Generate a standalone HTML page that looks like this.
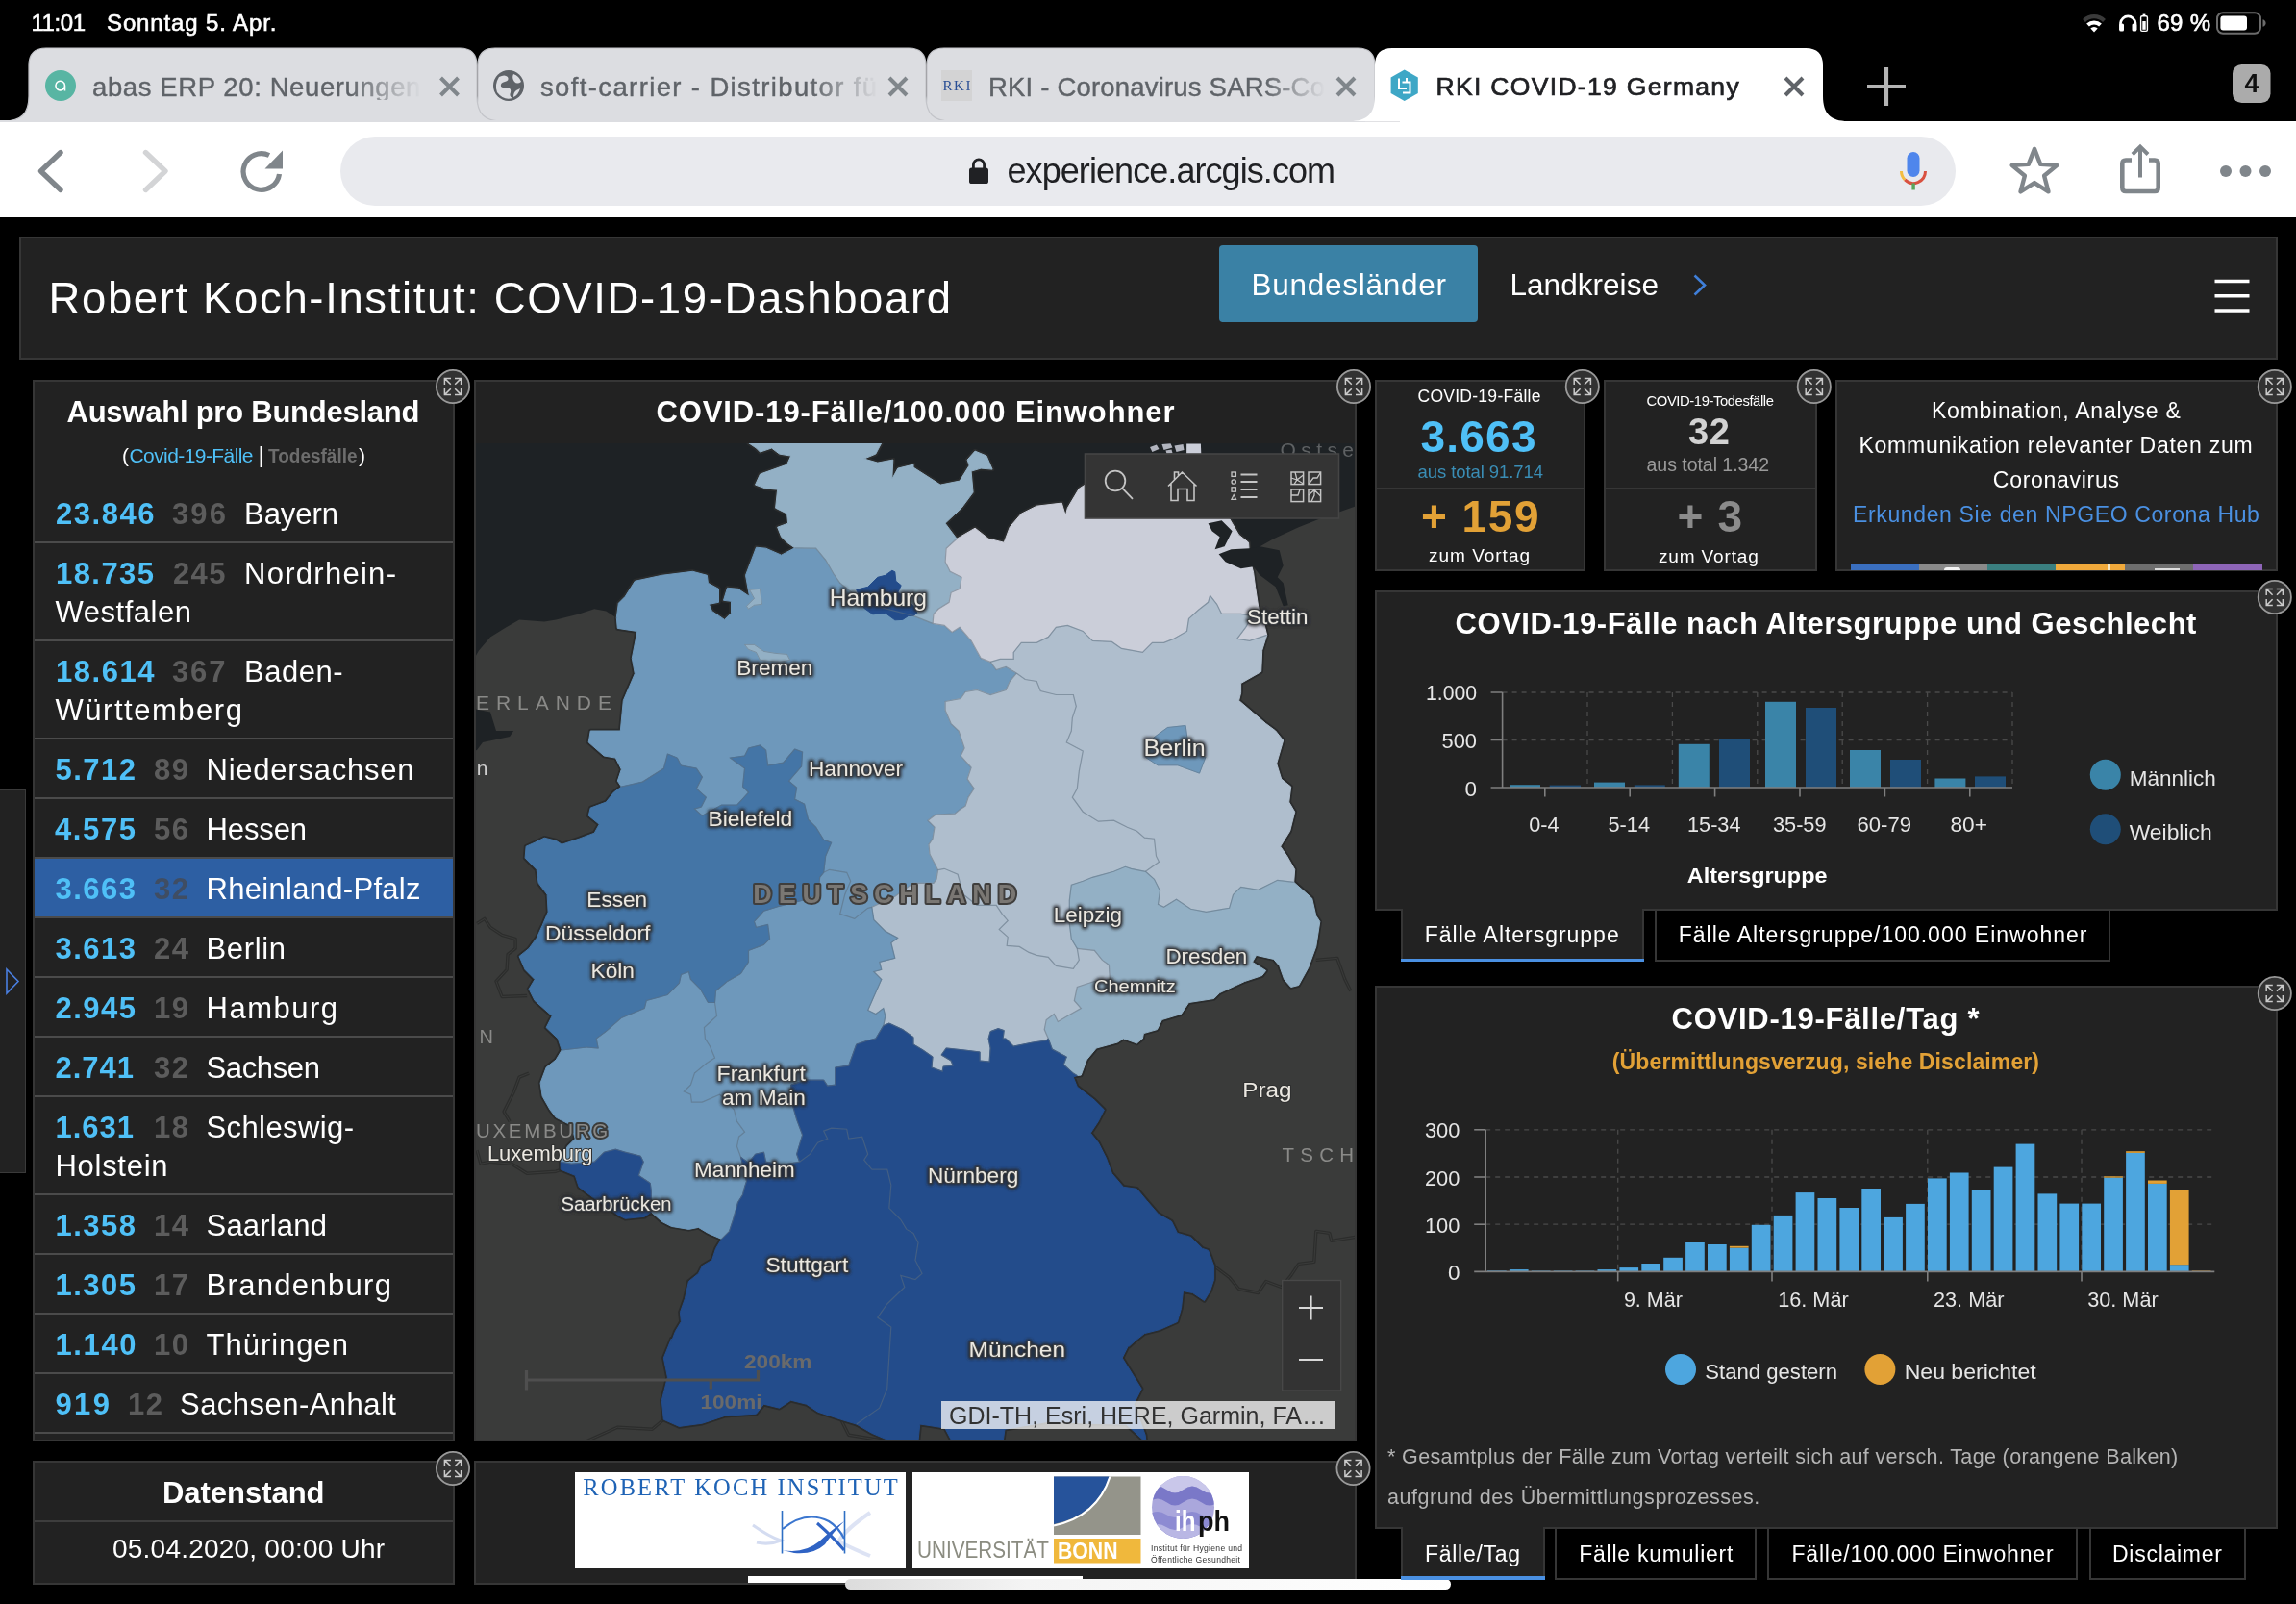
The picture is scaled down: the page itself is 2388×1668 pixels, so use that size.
<!DOCTYPE html>
<html lang="de"><head><meta charset="utf-8">
<title>RKI COVID-19 Germany</title>
<style>

html,body{margin:0;padding:0;background:#000;}
body{will-change:transform;width:2388px;height:1668px;position:relative;overflow:hidden;font-family:"Liberation Sans",sans-serif;}
.abs,.t,.panel{position:absolute;}
.t{white-space:pre;display:block;}
.panel{background:#222;border:2px solid #363636;box-sizing:border-box;}
.tabon{background:#222;border:2px solid #363636;border-top:none;box-sizing:border-box;}
.taboff{background:#000;border:2px solid #363636;box-sizing:border-box;}

</style></head>
<body>
<div id="statusbar">
<span class="t" style="left:32.5px;top:11.7px;font-size:24px;line-height:24px;color:#fff;font-weight:400;font-family:'Liberation Sans', sans-serif;letter-spacing:-0.45px;-webkit-text-stroke:0.6px #fff;">11:01</span>
<span class="t" style="left:111.0px;top:11.7px;font-size:24px;line-height:24px;color:#fff;font-weight:400;font-family:'Liberation Sans', sans-serif;letter-spacing:0.88px;-webkit-text-stroke:0.6px #fff;">Sonntag 5. Apr.</span>
<span class="t" style="left:2243.5px;top:11.7px;font-size:24px;line-height:24px;color:#fff;font-weight:400;font-family:'Liberation Sans', sans-serif;letter-spacing:0.27px;-webkit-text-stroke:0.6px #fff;">69 %</span>
</div>
<div class="abs" style="left:0px;top:126px;width:2388px;height:100px;background:#fff;"></div>
<svg class="abs" style="left:0;top:0" width="2388" height="240" viewBox="0 0 2388 240"><g fill="none" stroke="#fff" stroke-linecap="butt"><path d="M2167.5,21.5 A15,15 0 0 1 2188.5,21.5" stroke="#3a3a3a" stroke-width="4.2"/><path d="M2171.5,26 A9.5,9.5 0 0 1 2184.5,26" stroke-width="4"/></g><path d="M2178,33.5 L2174.3,29.6 A5.3,5.3 0 0 1 2181.7,29.6 Z" fill="#fff"/><path d="M2205.5,31 L2205.5,24 A7.8,8 0 0 1 2221,24 L2221,31" fill="none" stroke="#fff" stroke-width="2.6"/><rect x="2204.2" y="24.5" width="4.8" height="8" rx="1.6" fill="#fff"/><rect x="2217.5" y="24.5" width="4.8" height="8" rx="1.6" fill="#fff"/><rect x="2226.6" y="16.8" width="6.8" height="15.6" rx="1.4" fill="none" stroke="#fff" stroke-width="1.4"/><rect x="2228.6" y="14.6" width="2.8" height="1.8" fill="#fff"/><rect x="2228.3" y="22" width="3.4" height="8.8" fill="#fff"/><rect x="2306" y="13.2" width="45" height="21.6" rx="6" fill="none" stroke="#6b6b6b" stroke-width="2"/><rect x="2309.4" y="16.6" width="27.6" height="14.8" rx="3" fill="#fff"/><path d="M2353.5,20.2 Q2356.6,21.2 2356.6,24 Q2356.6,26.8 2353.5,27.8 Z" fill="#6b6b6b"/><path d="M938,126 C956,126 964,118 964,100 L964,68 Q964,50 982,50 L1412,50 Q1430,50 1430,68 L1430,100 C1430,118 1438,126 1456,126 Z" fill="#dcdde1" stroke="#c3c4c9" stroke-width="1.2"/><path d="M471,126 C489,126 497,118 497,100 L497,68 Q497,50 515,50 L945,50 Q963,50 963,68 L963,100 C963,118 971,126 989,126 Z" fill="#dcdde1" stroke="#c3c4c9" stroke-width="1.2"/><path d="M4,126 C22,126 30,118 30,100 L30,68 Q30,50 48,50 L478,50 Q496,50 496,68 L496,100 C496,118 504,126 522,126 Z" fill="#dcdde1" stroke="#c3c4c9" stroke-width="1.2"/><rect x="0" y="125" width="1420" height="2" fill="#dcdde1"/><path d="M1404,126 C1422,126 1430,118 1430,100 L1430,68 Q1430,50 1448,50 L1878,50 Q1896,50 1896,68 L1896,100 C1896,118 1904,126 1922,126 Z" fill="#fff"/><circle cx="63" cy="89" r="16" fill="#58b5a3"/><path d="M67.5,89 A4.8,4.8 0 1 0 67.5,89.1 L67.5,94.5" fill="none" stroke="#fff" stroke-width="1.6"/><circle cx="529" cy="89" r="16" fill="#5f6368"/><path d="M519,80 q6,-3 9,0 q2,4 -3,5 q-5,1 -4,5 q4,3 7,1 q4,1 3,5 q-2,4 2,6 q-9,3 -16,-6 q-3,-8 2,-16 Z" fill="#dcdde1"/><path d="M534,77 q6,2 8,8 q-4,3 -7,0 q-3,-4 -1,-8 Z M541,92 q-2,7 -7,9 q0,-5 3,-7 Z" fill="#dcdde1"/><rect x="979" y="73" width="32" height="32" fill="#d3d3d4"/><path d="M1460.7,72.5 L1474.8,80.6 L1474.8,96.9 L1460.7,105 L1446.6,96.9 L1446.6,80.6 Z" fill="#3ea7c6"/><path d="M1455,81.5 L1455,92 L1463,92 M1458.5,85.5 L1466.5,85.5 L1466.5,96.5 L1459,96.5 M1463,81 L1463,85" fill="none" stroke="#fff" stroke-width="2"/><path d="M458.5,81 L476.5,99 M476.5,81 L458.5,99" stroke="#80868b" stroke-width="4" fill="none"/><path d="M925,81 L943,99 M943,81 L925,99" stroke="#80868b" stroke-width="4" fill="none"/><path d="M1391,81 L1409,99 M1409,81 L1391,99" stroke="#80868b" stroke-width="4" fill="none"/><path d="M1857,81 L1875,99 M1875,81 L1857,99" stroke="#5f6368" stroke-width="4" fill="none"/><path d="M1942,90 L1982,90 M1962,70 L1962,110" stroke="#b4b4b4" stroke-width="4.2" fill="none"/><rect x="2322" y="67" width="39.5" height="40" rx="9.5" fill="#ababab"/><path d="M63,158.5 L42.5,178 L63,197.5" fill="none" stroke="#80868b" stroke-width="5.4" stroke-linecap="round" stroke-linejoin="round"/><path d="M151.5,158.5 L172,178 L151.5,197.5" fill="none" stroke="#d3d4d6" stroke-width="5.4" stroke-linecap="round" stroke-linejoin="round"/><path d="M290.5,181 A18.8,18.8 0 1 1 280,161.5" fill="none" stroke="#80868b" stroke-width="5.2"/><path d="M294,156.5 L294,175.5 L275.5,175.5 Z" fill="#80868b"/><rect x="354" y="142" width="1680" height="72" rx="36" fill="#e9eaee"/><rect x="1008" y="174.5" width="20" height="16.5" rx="2.6" fill="#202124"/><path d="M1012.4,176 L1012.4,171.5 A5.6,5.6 0 0 1 1023.6,171.5 L1023.6,176" fill="none" stroke="#202124" stroke-width="2.8"/><rect x="1983.5" y="158" width="13" height="26" rx="6.5" fill="#4f86ec"/><path d="M1977.5,178 A12.5,12.5 0 0 0 1981.2,186.9" fill="none" stroke="#f3bd42" stroke-width="3"/><path d="M1981.2,186.9 A12.5,12.5 0 0 0 2002.5,178" fill="none" stroke="#d95140" stroke-width="3"/><rect x="1988.4" y="190.5" width="3.4" height="7" fill="#58a55c"/><polygon points="2116.0,154.9 2122.2,170.9 2139.4,171.9 2126.1,182.8 2130.5,199.4 2116.0,190.1 2101.5,199.4 2105.9,182.8 2092.6,171.9 2109.8,170.9" fill="none" stroke="#80868b" stroke-width="4.4" stroke-linejoin="round"/><path d="M2217,166.5 L2211,166.5 Q2207.3,166.5 2207.3,170.5 L2207.3,195 Q2207.3,199 2211,199 L2241,199 Q2244.7,199 2244.7,195 L2244.7,170.5 Q2244.7,166.5 2241,166.5 L2235,166.5" fill="none" stroke="#80868b" stroke-width="4.6"/><path d="M2226,184.5 L2226,153 M2218,160.5 L2226,152.5 L2234,160.5" fill="none" stroke="#80868b" stroke-width="4" stroke-linejoin="miter"/><circle cx="2315" cy="178" r="6" fill="#80868b"/><circle cx="2335.5" cy="178" r="6" fill="#80868b"/><circle cx="2356" cy="178" r="6" fill="#80868b"/></svg>
<span class="t" style="left:96.0px;top:76.7px;font-size:27.5px;line-height:27.5px;color:#5f6368;font-weight:400;font-family:'Liberation Sans', sans-serif;letter-spacing:0.60px;-webkit-mask-image:linear-gradient(90deg,#000 78%,transparent 100%);mask-image:linear-gradient(90deg,#000 78%,transparent 100%);-webkit-text-stroke:0.4px #5f6368;">abas ERP 20: Neuerungen</span>
<span class="t" style="left:562.0px;top:76.7px;font-size:27.5px;line-height:27.5px;color:#5f6368;font-weight:400;font-family:'Liberation Sans', sans-serif;letter-spacing:1.37px;-webkit-mask-image:linear-gradient(90deg,#000 80%,transparent 100%);mask-image:linear-gradient(90deg,#000 80%,transparent 100%);-webkit-text-stroke:0.4px #5f6368;">soft-carrier - Distributor fü</span>
<span class="t" style="left:1028.0px;top:76.7px;font-size:27.5px;line-height:27.5px;color:#5f6368;font-weight:400;font-family:'Liberation Sans', sans-serif;letter-spacing:0.19px;-webkit-mask-image:linear-gradient(90deg,#000 82%,transparent 100%);mask-image:linear-gradient(90deg,#000 82%,transparent 100%);-webkit-text-stroke:0.4px #5f6368;">RKI - Coronavirus SARS-Co</span>
<span class="t" style="left:1493.5px;top:76.6px;font-size:26.5px;line-height:26.5px;color:#202124;font-weight:400;font-family:'Liberation Sans', sans-serif;letter-spacing:1.32px;-webkit-text-stroke:0.7px #202124;">RKI COVID-19 Germany</span>
<span class="t" style="left:980.5px;top:82.4px;font-size:15px;line-height:15px;color:#2a4f95;font-weight:400;font-family:'Liberation Serif', serif;letter-spacing:1.58px;">RKI</span>
<span class="t" style="left:2334.5px;top:74.1px;font-size:27px;line-height:27px;color:#111;font-weight:700;font-family:'Liberation Sans', sans-serif;letter-spacing:0.47px;">4</span>
<span class="t" style="left:1047.5px;top:159.5px;font-size:36px;line-height:36px;color:#202124;font-weight:400;font-family:'Liberation Sans', sans-serif;letter-spacing:-0.93px;">experience.arcgis.com</span>
<div class="panel" id="header" style="left:19.5px;top:246px;width:2349px;height:127.5px;"></div>
<span class="t" style="left:50.5px;top:288.0px;font-size:45.5px;line-height:45.5px;color:#fff;font-weight:400;font-family:'Liberation Sans', sans-serif;letter-spacing:1.63px;">Robert Koch-Institut: COVID-19-Dashboard</span>
<div class="abs" style="left:1268px;top:255px;width:269px;height:80px;background:#3a81a5;border-radius:4px;"></div>
<span class="t" style="left:1301.5px;top:280.8px;font-size:31.5px;line-height:31.5px;color:#fff;font-weight:400;font-family:'Liberation Sans', sans-serif;letter-spacing:0.74px;">Bundesländer</span>
<span class="t" style="left:1570.5px;top:280.8px;font-size:31.5px;line-height:31.5px;color:#fff;font-weight:400;font-family:'Liberation Sans', sans-serif;letter-spacing:0.04px;">Landkreise</span>
<svg class="abs" style="left:1750px;top:276px" width="40" height="40"><path d="M12.5,10.5 L23,20.5 L12.5,30.5" fill="none" stroke="#3f7fd9" stroke-width="2.6"/></svg>
<svg class="abs" style="left:2290px;top:280px" width="60" height="56"><path d="M13.5,12.5 H49.5 M13.5,27.8 H49.5 M13.5,43 H49.5" stroke="#fff" stroke-width="3.4"/></svg>
<div class="abs" style="left:-2px;top:821px;width:29px;height:399px;background:#222;border:1.5px solid #3a3a3a;box-sizing:border-box;"></div>
<svg class="abs" style="left:0;top:1000px" width="28" height="42"><path d="M7,8 L19,20.5 L7,33 Z" fill="none" stroke="#4a7fe0" stroke-width="1.6"/></svg>
<div class="panel" id="list" style="left:34px;top:394.5px;width:439px;height:1104px;overflow:hidden;"></div>
<span class="t" style="left:69.5px;top:413.3px;font-size:31px;line-height:31px;color:#fff;font-weight:700;font-family:'Liberation Sans', sans-serif;letter-spacing:-0.24px;">Auswahl pro Bundesland</span>
<span class="t" style="left:127.0px;top:463.2px;font-size:21px;line-height:21px;color:#fff;font-weight:400;font-family:'Liberation Sans', sans-serif;letter-spacing:-1.00px;">(</span>
<span class="t" style="left:134.5px;top:463.2px;font-size:21px;line-height:21px;color:#4fc0f7;font-weight:400;font-family:'Liberation Sans', sans-serif;letter-spacing:-0.58px;">Covid-19-Fälle</span>
<span class="t" style="left:268.5px;top:461.2px;font-size:24px;line-height:24px;color:#fff;font-weight:400;font-family:'Liberation Sans', sans-serif;letter-spacing:-2.23px;">|</span>
<span class="t" style="left:279.0px;top:464.1px;font-size:20px;line-height:20px;color:#6d6d6d;font-weight:700;font-family:'Liberation Sans', sans-serif;transform-origin:0 0;transform:scaleX(0.9493);">Todesfälle</span>
<span class="t" style="left:373.0px;top:463.2px;font-size:21px;line-height:21px;color:#fff;font-weight:400;font-family:'Liberation Sans', sans-serif;letter-spacing:-1.00px;">)</span>
<span class="t" style="left:58.0px;top:518.8px;font-size:31px;line-height:31px;color:#4fc0f7;font-weight:700;font-family:'Liberation Sans', sans-serif;letter-spacing:1.53px;">23.846</span>
<span class="t" style="left:179.0px;top:518.8px;font-size:31px;line-height:31px;color:#5c5c5c;font-weight:700;font-family:'Liberation Sans', sans-serif;letter-spacing:2.13px;">396</span>
<span class="t" style="left:254.0px;top:518.8px;font-size:31px;line-height:31px;color:#fff;font-weight:400;font-family:'Liberation Sans', sans-serif;letter-spacing:-0.05px;">Bayern</span>
<div class="abs" style="left:36px;top:563px;width:435px;height:2px;background:#4b4b4b;"></div>
<span class="t" style="left:58.0px;top:580.8px;font-size:31px;line-height:31px;color:#4fc0f7;font-weight:700;font-family:'Liberation Sans', sans-serif;letter-spacing:1.43px;">18.735</span>
<span class="t" style="left:180.0px;top:580.8px;font-size:31px;line-height:31px;color:#5c5c5c;font-weight:700;font-family:'Liberation Sans', sans-serif;letter-spacing:1.38px;">245</span>
<span class="t" style="left:254.0px;top:580.8px;font-size:31px;line-height:31px;color:#fff;font-weight:400;font-family:'Liberation Sans', sans-serif;letter-spacing:1.28px;">Nordrhein-</span>
<span class="t" style="left:57.5px;top:620.8px;font-size:31px;line-height:31px;color:#fff;font-weight:400;font-family:'Liberation Sans', sans-serif;letter-spacing:0.53px;">Westfalen</span>
<div class="abs" style="left:36px;top:665px;width:435px;height:2px;background:#4b4b4b;"></div>
<span class="t" style="left:58.0px;top:682.8px;font-size:31px;line-height:31px;color:#4fc0f7;font-weight:700;font-family:'Liberation Sans', sans-serif;letter-spacing:1.53px;">18.614</span>
<span class="t" style="left:179.0px;top:682.8px;font-size:31px;line-height:31px;color:#5c5c5c;font-weight:700;font-family:'Liberation Sans', sans-serif;letter-spacing:1.88px;">367</span>
<span class="t" style="left:254.0px;top:682.8px;font-size:31px;line-height:31px;color:#fff;font-weight:400;font-family:'Liberation Sans', sans-serif;letter-spacing:0.51px;">Baden-</span>
<span class="t" style="left:57.5px;top:722.8px;font-size:31px;line-height:31px;color:#fff;font-weight:400;font-family:'Liberation Sans', sans-serif;letter-spacing:1.53px;">Württemberg</span>
<div class="abs" style="left:36px;top:767px;width:435px;height:2px;background:#4b4b4b;"></div>
<span class="t" style="left:57.5px;top:784.8px;font-size:31px;line-height:31px;color:#4fc0f7;font-weight:700;font-family:'Liberation Sans', sans-serif;letter-spacing:1.48px;">5.712</span>
<span class="t" style="left:160.0px;top:784.8px;font-size:31px;line-height:31px;color:#5c5c5c;font-weight:700;font-family:'Liberation Sans', sans-serif;letter-spacing:1.52px;">89</span>
<span class="t" style="left:214.5px;top:784.8px;font-size:31px;line-height:31px;color:#fff;font-weight:400;font-family:'Liberation Sans', sans-serif;letter-spacing:0.77px;">Niedersachsen</span>
<div class="abs" style="left:36px;top:829px;width:435px;height:2px;background:#4b4b4b;"></div>
<span class="t" style="left:57.0px;top:846.8px;font-size:31px;line-height:31px;color:#4fc0f7;font-weight:700;font-family:'Liberation Sans', sans-serif;letter-spacing:1.61px;">4.575</span>
<span class="t" style="left:160.0px;top:846.8px;font-size:31px;line-height:31px;color:#5c5c5c;font-weight:700;font-family:'Liberation Sans', sans-serif;letter-spacing:1.52px;">56</span>
<span class="t" style="left:214.5px;top:846.8px;font-size:31px;line-height:31px;color:#fff;font-weight:400;font-family:'Liberation Sans', sans-serif;letter-spacing:-0.12px;">Hessen</span>
<div class="abs" style="left:36px;top:891px;width:435px;height:2px;background:#4b4b4b;"></div>
<div class="abs" style="left:36px;top:893px;width:435px;height:60px;background:#2d5fa3;"></div>
<span class="t" style="left:57.5px;top:908.8px;font-size:31px;line-height:31px;color:#4fc0f7;font-weight:700;font-family:'Liberation Sans', sans-serif;letter-spacing:1.48px;">3.663</span>
<span class="t" style="left:160.0px;top:908.8px;font-size:31px;line-height:31px;color:#3f4d63;font-weight:700;font-family:'Liberation Sans', sans-serif;letter-spacing:1.52px;">32</span>
<span class="t" style="left:214.5px;top:908.8px;font-size:31px;line-height:31px;color:#fff;font-weight:400;font-family:'Liberation Sans', sans-serif;letter-spacing:0.30px;">Rheinland-Pfalz</span>
<div class="abs" style="left:36px;top:953px;width:435px;height:2px;background:#4b4b4b;"></div>
<span class="t" style="left:57.5px;top:970.8px;font-size:31px;line-height:31px;color:#4fc0f7;font-weight:700;font-family:'Liberation Sans', sans-serif;letter-spacing:1.48px;">3.613</span>
<span class="t" style="left:160.0px;top:970.8px;font-size:31px;line-height:31px;color:#5c5c5c;font-weight:700;font-family:'Liberation Sans', sans-serif;letter-spacing:1.52px;">24</span>
<span class="t" style="left:214.5px;top:970.8px;font-size:31px;line-height:31px;color:#fff;font-weight:400;font-family:'Liberation Sans', sans-serif;letter-spacing:0.65px;">Berlin</span>
<div class="abs" style="left:36px;top:1015px;width:435px;height:2px;background:#4b4b4b;"></div>
<span class="t" style="left:57.5px;top:1032.8px;font-size:31px;line-height:31px;color:#4fc0f7;font-weight:700;font-family:'Liberation Sans', sans-serif;letter-spacing:1.48px;">2.945</span>
<span class="t" style="left:160.0px;top:1032.8px;font-size:31px;line-height:31px;color:#5c5c5c;font-weight:700;font-family:'Liberation Sans', sans-serif;letter-spacing:1.52px;">19</span>
<span class="t" style="left:214.5px;top:1032.8px;font-size:31px;line-height:31px;color:#fff;font-weight:400;font-family:'Liberation Sans', sans-serif;letter-spacing:1.50px;">Hamburg</span>
<div class="abs" style="left:36px;top:1077px;width:435px;height:2px;background:#4b4b4b;"></div>
<span class="t" style="left:57.5px;top:1094.8px;font-size:31px;line-height:31px;color:#4fc0f7;font-weight:700;font-family:'Liberation Sans', sans-serif;letter-spacing:0.98px;">2.741</span>
<span class="t" style="left:160.0px;top:1094.8px;font-size:31px;line-height:31px;color:#5c5c5c;font-weight:700;font-family:'Liberation Sans', sans-serif;letter-spacing:1.52px;">32</span>
<span class="t" style="left:214.5px;top:1094.8px;font-size:31px;line-height:31px;color:#fff;font-weight:400;font-family:'Liberation Sans', sans-serif;letter-spacing:-0.36px;">Sachsen</span>
<div class="abs" style="left:36px;top:1139px;width:435px;height:2px;background:#4b4b4b;"></div>
<span class="t" style="left:57.5px;top:1156.8px;font-size:31px;line-height:31px;color:#4fc0f7;font-weight:700;font-family:'Liberation Sans', sans-serif;letter-spacing:0.98px;">1.631</span>
<span class="t" style="left:160.0px;top:1156.8px;font-size:31px;line-height:31px;color:#5c5c5c;font-weight:700;font-family:'Liberation Sans', sans-serif;letter-spacing:1.52px;">18</span>
<span class="t" style="left:214.5px;top:1156.8px;font-size:31px;line-height:31px;color:#fff;font-weight:400;font-family:'Liberation Sans', sans-serif;letter-spacing:0.40px;">Schleswig-</span>
<span class="t" style="left:57.5px;top:1196.8px;font-size:31px;line-height:31px;color:#fff;font-weight:400;font-family:'Liberation Sans', sans-serif;letter-spacing:0.71px;">Holstein</span>
<div class="abs" style="left:36px;top:1241px;width:435px;height:2px;background:#4b4b4b;"></div>
<span class="t" style="left:57.5px;top:1258.8px;font-size:31px;line-height:31px;color:#4fc0f7;font-weight:700;font-family:'Liberation Sans', sans-serif;letter-spacing:1.48px;">1.358</span>
<span class="t" style="left:160.0px;top:1258.8px;font-size:31px;line-height:31px;color:#5c5c5c;font-weight:700;font-family:'Liberation Sans', sans-serif;letter-spacing:1.52px;">14</span>
<span class="t" style="left:214.5px;top:1258.8px;font-size:31px;line-height:31px;color:#fff;font-weight:400;font-family:'Liberation Sans', sans-serif;letter-spacing:0.20px;">Saarland</span>
<div class="abs" style="left:36px;top:1303px;width:435px;height:2px;background:#4b4b4b;"></div>
<span class="t" style="left:57.5px;top:1320.8px;font-size:31px;line-height:31px;color:#4fc0f7;font-weight:700;font-family:'Liberation Sans', sans-serif;letter-spacing:1.48px;">1.305</span>
<span class="t" style="left:160.0px;top:1320.8px;font-size:31px;line-height:31px;color:#5c5c5c;font-weight:700;font-family:'Liberation Sans', sans-serif;letter-spacing:1.52px;">17</span>
<span class="t" style="left:214.5px;top:1320.8px;font-size:31px;line-height:31px;color:#fff;font-weight:400;font-family:'Liberation Sans', sans-serif;letter-spacing:1.32px;">Brandenburg</span>
<div class="abs" style="left:36px;top:1365px;width:435px;height:2px;background:#4b4b4b;"></div>
<span class="t" style="left:57.5px;top:1382.8px;font-size:31px;line-height:31px;color:#4fc0f7;font-weight:700;font-family:'Liberation Sans', sans-serif;letter-spacing:1.61px;">1.140</span>
<span class="t" style="left:160.0px;top:1382.8px;font-size:31px;line-height:31px;color:#5c5c5c;font-weight:700;font-family:'Liberation Sans', sans-serif;letter-spacing:1.52px;">10</span>
<span class="t" style="left:214.5px;top:1382.8px;font-size:31px;line-height:31px;color:#fff;font-weight:400;font-family:'Liberation Sans', sans-serif;letter-spacing:0.99px;">Thüringen</span>
<div class="abs" style="left:36px;top:1427px;width:435px;height:2px;background:#4b4b4b;"></div>
<span class="t" style="left:57.5px;top:1444.8px;font-size:31px;line-height:31px;color:#4fc0f7;font-weight:700;font-family:'Liberation Sans', sans-serif;letter-spacing:2.38px;">919</span>
<span class="t" style="left:133.0px;top:1444.8px;font-size:31px;line-height:31px;color:#5c5c5c;font-weight:700;font-family:'Liberation Sans', sans-serif;letter-spacing:1.52px;">12</span>
<span class="t" style="left:187.0px;top:1444.8px;font-size:31px;line-height:31px;color:#fff;font-weight:400;font-family:'Liberation Sans', sans-serif;letter-spacing:0.47px;">Sachsen-Anhalt</span>
<div class="abs" style="left:36px;top:1489px;width:435px;height:2px;background:#4b4b4b;"></div>
<div class="panel" id="datenstand" style="left:34px;top:1518.5px;width:439px;height:129.5px;"></div>
<div class="abs" style="left:36px;top:1581px;width:435px;height:2px;background:#3d3d3d;"></div>
<span class="t" style="left:169.0px;top:1536.8px;font-size:31px;line-height:31px;color:#fff;font-weight:700;font-family:'Liberation Sans', sans-serif;letter-spacing:-0.03px;">Datenstand</span>
<span class="t" style="left:117.0px;top:1597.3px;font-size:28px;line-height:28px;color:#fff;font-weight:400;font-family:'Liberation Sans', sans-serif;letter-spacing:0.22px;">05.04.2020, 00:00 Uhr</span>
<div class="panel" id="logos" style="left:493px;top:1518.5px;width:918px;height:129.5px;"></div>
<div class="abs" style="left:598px;top:1531px;width:344px;height:100px;background:#fff;"></div>
<div class="abs" style="left:949px;top:1531px;width:350px;height:100px;background:#fff;"></div>
<span class="t" style="left:606.3px;top:1535.4px;font-size:24.5px;line-height:24.5px;color:#1f63b5;font-weight:400;font-family:'Liberation Serif', serif;letter-spacing:2.15px;">ROBERT KOCH INSTITUT</span>
<svg class="abs" style="left:770px;top:1560px" width="180" height="75" viewBox="770 1560 180 75"><path d="M783,1586 Q800,1598 812,1602 Q800,1607 787,1604" fill="none" stroke="#c9d3ee" stroke-width="3" opacity=".8"/><path d="M905,1573 Q880,1590 872,1603 Q890,1612 905,1618" fill="none" stroke="#d5dcf1" stroke-width="4" opacity=".8"/><path d="M813.5,1571 V1615.5 M878.5,1571 V1615.5" stroke="#2e6fc4" stroke-width="1.6"/><path d="M814,1590 Q838,1570 862,1582 Q872,1588 878,1600" fill="none" stroke="#3b76cf" stroke-width="2.2"/><path d="M814,1612 Q836,1616 852,1603 Q866,1590 878,1582 Q866,1594 858,1606 Q846,1617 826,1615 Z" fill="#2f63c4"/><path d="M850,1584 Q866,1598 878,1612" fill="none" stroke="#2f63c4" stroke-width="3"/></svg>
<svg class="abs" style="left:1090px;top:1531px" width="110" height="100" viewBox="1090 1531 110 100"><rect x="1096" y="1535.5" width="90.5" height="60.5" fill="#94948a"/><path d="M1096,1535.5 H1154 Q1140,1576 1096,1585 Z" fill="#26539b"/><path d="M1154.5,1535.5 Q1141,1577 1096,1586.5" fill="none" stroke="#fff" stroke-width="2.2"/><rect x="1096" y="1600" width="90.5" height="25.5" fill="#f0b83c"/></svg>
<span class="t" style="left:953.5px;top:1601.1px;font-size:23.5px;line-height:23.5px;color:#8b8c81;font-weight:400;font-family:'Liberation Sans', sans-serif;transform-origin:0 0;transform:scaleX(0.8816);">UNIVERSITÄT</span>
<span class="t" style="left:1099.5px;top:1600.8px;font-size:24.5px;line-height:24.5px;color:#fff;font-weight:700;font-family:'Liberation Sans', sans-serif;transform-origin:0 0;transform:scaleX(0.8664);">BONN</span>
<svg class="abs" style="left:1194px;top:1531px" width="105" height="100" viewBox="1194 1531 105 100"><defs><clipPath id="ihc"><circle cx="1230.5" cy="1567.5" r="32.5"/></clipPath></defs><circle cx="1230.5" cy="1567.5" r="32.5" fill="#aaa7dc"/><g clip-path="url(#ihc)"><path d="M1195,1549 q9,-7 18,0 t18,0 t18,0 t18,0 V1534 H1195 Z" fill="#c9c7ea"/><path d="M1195,1562 q9,-7 18,0 t18,0 t18,0 t18,0 V1549 q-9,7 -18,0 t-18,0 t-18,0 t-18,0 Z" fill="#7a78c8"/><path d="M1195,1575 q9,-6 18,0 t18,0 t18,0 t18,0 V1602 H1195 Z" fill="#8d8bd2"/><path d="M1195,1588 q9,-6 18,0 t18,0 t18,0 t18,0 V1602 H1195 Z" fill="#b9b7e4"/></g></svg>
<span class="t" style="left:1221.5px;top:1566.6px;font-size:30px;line-height:30px;color:#fff;font-weight:700;font-family:'Liberation Sans', sans-serif;transform-origin:0 0;transform:scaleX(0.8061);">ih</span>
<span class="t" style="left:1246.0px;top:1566.6px;font-size:30px;line-height:30px;color:#111;font-weight:700;font-family:'Liberation Sans', sans-serif;transform-origin:0 0;transform:scaleX(0.9003);">ph</span>
<span class="t" style="left:1197.0px;top:1606.0px;font-size:8.6px;line-height:8.6px;color:#333;font-weight:400;font-family:'Liberation Sans', sans-serif;letter-spacing:0.29px;">Institut für Hygiene und</span>
<span class="t" style="left:1197.0px;top:1617.7px;font-size:8.6px;line-height:8.6px;color:#333;font-weight:400;font-family:'Liberation Sans', sans-serif;letter-spacing:0.27px;">Öffentliche Gesundheit</span>
<div class="abs" style="left:778px;top:1638.5px;width:348px;height:7px;background:#fff;"></div>
<div class="abs" id="homebar" style="left:879px;top:1642px;width:630px;height:11px;border-radius:5.5px;background:linear-gradient(90deg,#dcdcdc 0%,#f4f4f4 30%,#fff 100%);"></div>
<div class="panel" id="mappanel" style="left:493px;top:394.5px;width:918px;height:1104px;"></div>
<span class="t" style="left:682.5px;top:412.5px;font-size:31px;line-height:31px;color:#fff;font-weight:700;font-family:'Liberation Sans', sans-serif;letter-spacing:0.88px;-webkit-text-stroke:0;">COVID-19-Fälle/100.000 Einwohner</span>
<svg class="abs" id="map" style="left:495px;top:461px" width="914" height="1036" viewBox="495 461 914 1036"><rect x="495" y="461" width="914" height="1036" fill="#3a3b3a"/><polygon points="480.0,455.0 850.6,459.0 850.6,580.3 790.5,600.3 774.5,654.4 730.4,654.4 690.4,620.3 650.3,640.4 641.3,642.4 630.3,635.4 618.2,633.3 602.2,638.4 578.2,644.4 566.1,646.4 540.1,644.4 526.1,652.4 510.0,662.4 498.0,676.4 490.0,690.5 480.0,690.0" fill="#1e2225"/><polygon points="490.0,736.5 510.0,740.5 516.0,760.0 534.1,760.0 530.1,766.0 502.0,772.0 496.0,780.0 490.0,782.0" fill="#1e2225"/><polygon points="890.7,459.0 1410.8,459.0 1410.8,526.2 1370.8,540.2 1350.7,548.2 1324.7,560.2 1310.6,568.2 1290.6,580.3 1250.5,520.1 1110.3,540.2 1010.1,580.3 970.0,540.2 910.8,500.1" fill="#1e2225"/><polyline points="496.0,960.4 504.0,955.4 510.0,964.4 522.1,972.4 536.1,976.4 536.1,986.4 528.1,992.4 527.1,1008.4 516.0,1020.5 522.1,1036.5 548.1,1035.5" fill="none" stroke="#2c2d2c" stroke-width="3.4" stroke-linejoin="round"/><polyline points="496.0,960.4 504.0,955.4 510.0,964.4 522.1,972.4 536.1,976.4 536.1,986.4 528.1,992.4 527.1,1008.4 516.0,1020.5 522.1,1036.5 548.1,1035.5" fill="none" stroke="#3a3b3a" stroke-width="1"/><polyline points="550.1,1116.1 540.1,1120.1 534.1,1136.1 524.1,1156.1 530.1,1166.2" fill="none" stroke="#2c2d2c" stroke-width="3.4" stroke-linejoin="round"/><polyline points="550.1,1116.1 540.1,1120.1 534.1,1136.1 524.1,1156.1 530.1,1166.2" fill="none" stroke="#3a3b3a" stroke-width="1"/><polyline points="496.0,1196.2 500.0,1210.2 510.0,1208.2 532.1,1210.2 548.1,1220.3 578.2,1218.2 584.2,1216.2" fill="none" stroke="#2c2d2c" stroke-width="3.4" stroke-linejoin="round"/><polyline points="496.0,1196.2 500.0,1210.2 510.0,1208.2 532.1,1210.2 548.1,1220.3 578.2,1218.2 584.2,1216.2" fill="none" stroke="#3a3b3a" stroke-width="1"/><polyline points="1262.6,1316.4 1278.6,1328.4 1288.6,1340.5 1308.6,1344.5 1316.7,1332.5 1332.7,1338.5 1342.7,1326.4 1350.7,1314.4 1366.8,1312.4 1368.8,1280.4 1382.8,1282.4 1384.8,1290.4 1410.0,1286.4" fill="none" stroke="#2c2d2c" stroke-width="3.4" stroke-linejoin="round"/><polyline points="1262.6,1316.4 1278.6,1328.4 1288.6,1340.5 1308.6,1344.5 1316.7,1332.5 1332.7,1338.5 1342.7,1326.4 1350.7,1314.4 1366.8,1312.4 1368.8,1280.4 1382.8,1282.4 1384.8,1290.4 1410.0,1286.4" fill="none" stroke="#3a3b3a" stroke-width="1"/><polyline points="1368.8,998.4 1390.8,996.4 1398.8,1018.5 1404.8,1030.5" fill="none" stroke="#2c2d2c" stroke-width="3.4" stroke-linejoin="round"/><polyline points="1368.8,998.4 1390.8,996.4 1398.8,1018.5 1404.8,1030.5" fill="none" stroke="#3a3b3a" stroke-width="1"/><polyline points="610.2,1498.7 642.3,1484.2 678.3,1486.3 690.3,1476.2" fill="none" stroke="#2c2d2c" stroke-width="3.4" stroke-linejoin="round"/><polyline points="610.2,1498.7 642.3,1484.2 678.3,1486.3 690.3,1476.2" fill="none" stroke="#3a3b3a" stroke-width="1"/><polyline points="874.7,1476.2 882.7,1492.3 922.7,1498.7" fill="none" stroke="#2c2d2c" stroke-width="3.4" stroke-linejoin="round"/><polyline points="874.7,1476.2 882.7,1492.3 922.7,1498.7" fill="none" stroke="#3a3b3a" stroke-width="1"/><polygon points="641.3,642.4 643.3,627.3 650.3,620.3 660.3,604.3 688.4,598.3 720.4,594.3 735.4,598.3 736.4,606.3 747.5,612.3 747.5,626.3 737.4,628.3 740.5,635.4 753.5,644.4 760.5,637.4 760.5,625.3 752.5,624.3 756.5,611.3 767.5,612.3 779.5,620.3 775.5,598.3 786.5,569.2 796.6,570.2 812.6,577.2 826.6,569.8 848.6,570.2 858.7,582.3 866.7,596.3 873.7,606.3 890.7,620.3 910.8,630.3 950.0,640.4 960.0,644.4 970.0,648.4 982.1,650.4 990.1,657.4 998.1,652.4 1010.1,666.4 1020.1,684.4 1030.1,688.4 1036.2,696.5 1046.2,693.5 1057.2,700.1 1050.2,708.5 1046.2,717.5 1030.1,722.5 1016.1,717.5 1004.1,719.5 999.1,726.5 983.1,729.5 983.1,738.5 989.1,752.6 997.1,760.0 1003.1,778.0 999.1,786.0 1010.1,798.1 1006.1,810.1 1013.1,820.1 1007.1,829.1 1004.1,838.1 998.1,842.1 993.1,846.2 973.0,847.2 965.0,853.2 972.0,860.2 970.0,872.2 966.0,878.2 967.0,888.2 975.6,904.7 974.0,914.3 971.0,918.3 950.0,918.3 930.8,932.3 906.8,943.3 902.7,944.3 888.7,955.4 873.7,950.3 878.7,930.3 884.7,916.3 880.7,907.3 862.7,904.3 856.7,907.3 858.7,890.2 864.7,876.2 856.7,873.2 848.6,860.2 840.6,852.2 836.6,836.1 826.6,831.1 828.6,819.1 820.6,812.1 833.6,797.1 834.6,782.0 826.6,779.0 814.6,793.1 798.6,796.1 796.6,780.0 790.5,775.0 778.5,778.0 774.5,786.0 759.5,788.1 774.5,799.1 772.5,818.1 778.5,824.1 766.5,837.1 750.5,837.1 730.4,848.2 722.4,841.1 729.4,839.1 734.4,829.1 724.4,820.1 730.4,808.1 724.4,799.1 708.4,796.1 704.4,788.1 694.4,784.0 690.4,799.1 668.3,813.1 646.3,818.1 642.3,812.1 646.3,800.1 640.3,788.1 628.2,786.0 612.2,772.0 614.2,760.0 645.3,760.0 648.3,728.5 660.3,700.5 657.3,684.4 661.3,664.4 662.3,656.4 642.3,653.4 641.3,642.4" fill="none" stroke="#2a2c2d" stroke-width="4.5" stroke-linejoin="round"/><polygon points="778.5,460.6 786.5,466.0 790.5,470.1 802.6,466.0 810.6,472.1 822.6,474.1 818.6,483.1 790.5,493.1 785.5,504.1 796.6,508.1 808.6,509.1 806.6,528.2 818.6,534.2 819.6,544.2 808.6,548.2 812.6,558.2 818.6,564.2 826.6,569.8 848.6,570.2 858.7,582.3 866.7,596.3 873.7,606.3 890.7,620.3 910.8,630.3 950.0,640.4 960.0,644.4 970.0,648.4 971.0,638.4 976.0,633.3 987.1,626.3 989.1,616.3 998.1,612.3 1000.1,600.3 988.1,594.3 983.1,584.3 984.1,570.2 995.1,560.2 983.1,544.2 1000.1,528.2 1012.1,512.1 1010.1,490.1 1020.1,487.1 1032.1,488.1 1026.1,474.1 1014.1,469.1 1006.1,478.1 1008.1,484.1 998.1,500.1 978.1,504.1 950.0,486.1 950.0,483.1 933.8,487.1 927.8,498.1 928.8,478.1 912.8,481.1 898.7,477.1 910.8,472.1 916.8,460.6" fill="none" stroke="#2a2c2d" stroke-width="4.5" stroke-linejoin="round"/><polygon points="995.1,560.2 1014.1,549.2 1028.1,560.2 1044.2,564.2 1050.2,548.2 1062.2,534.2 1078.2,526.2 1104.3,523.1 1108.3,536.2 1110.3,528.2 1122.3,508.1 1150.4,490.1 1195.4,480.1 1270.6,480.1 1278.6,539.2 1288.6,556.2 1298.6,564.2 1299.6,580.3 1303.6,595.3 1305.6,610.3 1308.6,630.3 1310.6,640.4 1314.7,648.4 1317.7,660.4 1299.6,666.4 1286.6,664.4 1295.6,652.4 1302.6,640.4 1290.6,638.4 1270.6,638.4 1265.6,628.3 1258.6,619.3 1256.6,626.3 1246.5,634.3 1236.5,643.4 1234.5,656.4 1220.5,664.4 1210.5,668.4 1198.4,668.4 1188.4,678.4 1166.4,674.4 1156.4,667.4 1136.3,666.4 1126.3,656.4 1110.3,650.4 1098.3,652.4 1090.3,662.4 1078.2,668.4 1062.2,668.4 1054.2,678.4 1054.2,685.4 1040.2,685.4 1030.1,688.4 1020.1,684.4 1010.1,666.4 998.1,652.4 990.1,657.4 982.1,650.4 970.0,648.4 971.0,638.4 976.0,633.3 987.1,626.3 989.1,616.3 998.1,612.3 1000.1,600.3 988.1,594.3 983.1,584.3 984.1,570.2 995.1,560.2" fill="none" stroke="#2a2c2d" stroke-width="4.5" stroke-linejoin="round"/><polygon points="1030.1,688.4 1040.2,685.4 1054.2,685.4 1054.2,678.4 1062.2,668.4 1078.2,668.4 1090.3,662.4 1098.3,652.4 1110.3,650.4 1126.3,656.4 1136.3,666.4 1156.4,667.4 1166.4,674.4 1188.4,678.4 1198.4,668.4 1210.5,668.4 1220.5,664.4 1234.5,656.4 1236.5,643.4 1246.5,634.3 1256.6,626.3 1258.6,619.3 1265.6,628.3 1270.6,638.4 1290.6,638.4 1302.6,640.4 1295.6,652.4 1286.6,664.4 1299.6,666.4 1317.7,660.4 1312.7,676.4 1311.7,698.5 1290.6,710.5 1290.6,720.5 1288.6,728.5 1302.6,740.5 1316.7,752.6 1326.7,760.0 1334.7,770.0 1327.7,794.1 1332.7,810.1 1342.7,818.1 1340.7,834.1 1346.7,844.2 1341.7,864.2 1331.7,880.2 1338.7,890.2 1346.7,904.3 1345.7,917.3 1328.7,915.3 1308.6,925.3 1290.6,922.3 1282.6,930.3 1278.6,944.3 1254.5,948.3 1238.5,945.3 1223.5,935.3 1210.5,943.3 1204.5,940.3 1206.5,926.3 1200.5,914.3 1191.4,906.3 1205.5,896.2 1202.5,890.2 1200.5,872.2 1190.4,871.2 1182.4,864.2 1172.4,860.2 1158.4,853.2 1142.3,854.2 1126.3,844.2 1115.3,829.1 1120.3,820.1 1122.3,802.1 1126.3,781.0 1109.3,772.0 1114.3,760.0 1115.3,746.6 1119.3,734.5 1116.3,722.5 1098.3,722.5 1082.2,718.5 1078.2,708.5 1066.2,706.5 1057.2,700.1 1046.2,693.5 1036.2,696.5 1030.1,688.4" fill="none" stroke="#2a2c2d" stroke-width="4.5" stroke-linejoin="round"/><polygon points="1057.2,700.1 1066.2,706.5 1078.2,708.5 1082.2,718.5 1098.3,722.5 1116.3,722.5 1119.3,734.5 1115.3,746.6 1114.3,760.0 1109.3,772.0 1126.3,781.0 1122.3,802.1 1120.3,820.1 1115.3,829.1 1126.3,844.2 1142.3,854.2 1158.4,853.2 1172.4,860.2 1182.4,864.2 1190.4,871.2 1200.5,872.2 1202.5,890.2 1205.5,896.2 1191.4,906.3 1176.4,903.3 1170.4,901.3 1158.4,906.3 1136.3,912.3 1126.3,916.3 1114.3,920.3 1112.3,936.3 1112.3,960.4 1114.3,976.4 1120.3,986.4 1122.3,998.4 1116.3,1007.4 1098.3,1004.4 1090.3,995.4 1078.2,993.4 1070.2,990.4 1060.2,984.4 1047.2,983.4 1048.2,974.4 1039.2,966.4 1048.2,957.4 1042.2,950.3 1036.2,941.3 1016.1,941.3 1002.1,930.3 998.1,916.3 996.1,909.3 982.1,903.3 975.6,904.7 967.0,888.2 966.0,878.2 970.0,872.2 972.0,860.2 965.0,853.2 973.0,847.2 993.1,846.2 998.1,842.1 1004.1,838.1 1007.1,829.1 1013.1,820.1 1006.1,810.1 1010.1,798.1 999.1,786.0 1003.1,778.0 997.1,760.0 989.1,752.6 983.1,738.5 983.1,729.5 999.1,726.5 1004.1,719.5 1016.1,717.5 1030.1,722.5 1046.2,717.5 1050.2,708.5 1057.2,700.1" fill="none" stroke="#2a2c2d" stroke-width="4.5" stroke-linejoin="round"/><polygon points="1191.4,906.3 1200.5,914.3 1206.5,926.3 1204.5,940.3 1210.5,943.3 1223.5,935.3 1238.5,945.3 1254.5,948.3 1278.6,944.3 1282.6,930.3 1290.6,922.3 1308.6,925.3 1328.7,915.3 1345.7,917.3 1364.7,934.3 1368.8,952.3 1372.8,958.4 1368.8,984.4 1360.7,1006.4 1350.7,1024.5 1342.7,1026.5 1335.7,1018.5 1330.7,1004.4 1324.7,997.4 1306.6,993.4 1302.6,1000.4 1316.7,1009.4 1312.7,1014.5 1294.6,1020.5 1268.6,1032.5 1262.6,1038.5 1236.5,1042.5 1228.5,1054.5 1208.5,1060.5 1203.5,1070.6 1189.4,1074.6 1188.4,1080.0 1182.4,1085.0 1168.4,1080.0 1162.4,1084.0 1140.3,1090.0 1130.3,1102.0 1124.3,1118.1 1120.3,1118.5 1116.3,1116.1 1106.3,1107.0 1109.3,1099.0 1094.3,1091.0 1090.3,1080.0 1086.2,1070.6 1088.2,1060.5 1096.3,1054.5 1100.3,1062.5 1110.3,1056.5 1124.3,1048.5 1117.3,1040.5 1120.3,1026.5 1138.3,1020.5 1154.4,1018.5 1153.4,1003.4 1146.4,998.4 1138.3,988.4 1120.3,986.4 1114.3,976.4 1112.3,960.4 1112.3,936.3 1114.3,920.3 1126.3,916.3 1136.3,912.3 1158.4,906.3 1170.4,901.3 1176.4,903.3 1191.4,906.3" fill="none" stroke="#2a2c2d" stroke-width="4.5" stroke-linejoin="round"/><polygon points="975.6,904.7 982.1,903.3 996.1,909.3 998.1,916.3 1002.1,930.3 1016.1,941.3 1036.2,941.3 1042.2,950.3 1048.2,957.4 1039.2,966.4 1048.2,974.4 1047.2,983.4 1060.2,984.4 1070.2,990.4 1078.2,993.4 1090.3,995.4 1098.3,1004.4 1116.3,1007.4 1122.3,998.4 1120.3,986.4 1138.3,988.4 1146.4,998.4 1153.4,1003.4 1154.4,1018.5 1138.3,1020.5 1120.3,1026.5 1117.3,1040.5 1124.3,1048.5 1110.3,1056.5 1100.3,1062.5 1096.3,1054.5 1088.2,1060.5 1086.2,1070.6 1090.3,1080.0 1088.2,1082.0 1074.2,1084.0 1054.2,1088.0 1046.2,1080.0 1043.2,1080.0 1044.2,1071.6 1038.2,1069.6 1030.1,1072.6 1028.1,1080.0 1030.1,1090.0 1029.1,1104.0 1019.1,1103.0 1019.1,1094.0 1003.1,1092.0 984.1,1090.0 979.1,1097.0 989.1,1103.0 991.1,1108.1 981.1,1109.1 980.1,1114.1 969.0,1110.1 970.0,1099.0 960.0,1092.0 950.0,1086.0 950.0,1078.6 938.8,1070.6 924.8,1064.1 918.8,1066.6 920.8,1056.5 918.8,1048.5 910.8,1054.5 902.7,1050.5 908.8,1036.5 916.8,1018.5 908.8,1010.5 916.8,1008.4 914.8,1000.4 930.8,996.4 926.8,980.4 933.8,975.4 920.8,968.4 908.8,956.4 906.8,943.3 930.8,932.3 950.0,918.3 971.0,918.3 974.0,914.3 975.6,904.7" fill="none" stroke="#2a2c2d" stroke-width="4.5" stroke-linejoin="round"/><polygon points="856.7,907.3 862.7,904.3 880.7,907.3 884.7,916.3 878.7,930.3 873.7,950.3 888.7,955.4 902.7,944.3 906.8,943.3 908.8,956.4 920.8,968.4 933.8,975.4 926.8,980.4 930.8,996.4 914.8,1000.4 916.8,1008.4 908.8,1010.5 916.8,1018.5 908.8,1036.5 902.7,1050.5 910.8,1054.5 918.8,1048.5 920.8,1056.5 918.8,1066.6 910.8,1080.0 902.7,1082.0 890.7,1086.0 882.7,1108.1 868.7,1110.1 868.7,1128.1 860.7,1129.1 856.7,1123.1 838.6,1123.1 822.6,1128.1 824.6,1150.1 828.6,1164.2 834.6,1180.2 828.6,1200.2 831.6,1208.2 814.6,1211.2 796.6,1208.2 794.5,1198.2 785.5,1200.2 778.5,1209.2 770.5,1203.2 766.5,1192.2 768.5,1182.2 774.5,1177.2 766.5,1166.2 763.5,1154.1 748.5,1138.1 730.4,1146.1 719.4,1146.1 718.4,1138.1 711.4,1135.1 718.4,1128.1 722.4,1116.1 734.4,1106.0 743.5,1100.0 738.4,1088.0 733.4,1080.0 732.4,1068.6 745.5,1056.5 743.5,1042.5 744.5,1030.5 756.5,1020.5 770.5,1012.5 778.5,1000.4 778.5,988.4 794.5,982.4 800.6,976.4 798.6,961.4 786.5,964.4 784.5,958.4 794.5,947.3 810.6,942.3 834.6,936.3 850.6,930.3 852.7,912.3 856.7,907.3" fill="none" stroke="#2a2c2d" stroke-width="4.5" stroke-linejoin="round"/><polygon points="584.2,1092.0 610.2,1089.0 622.2,1090.0 620.2,1080.0 630.3,1072.6 646.3,1058.5 670.3,1048.5 672.3,1040.5 694.4,1034.5 706.4,1022.5 708.4,1013.5 716.4,1010.5 718.4,1018.5 728.4,1028.5 736.4,1042.5 743.5,1042.5 745.5,1056.5 732.4,1068.6 733.4,1080.0 738.4,1088.0 743.5,1100.0 734.4,1106.0 722.4,1116.1 718.4,1128.1 711.4,1135.1 718.4,1138.1 719.4,1146.1 730.4,1146.1 748.5,1138.1 763.5,1154.1 766.5,1166.2 774.5,1177.2 768.5,1182.2 766.5,1192.2 770.5,1203.2 776.5,1228.3 774.5,1234.3 772.5,1242.3 767.5,1250.3 762.5,1268.3 758.5,1280.4 750.5,1288.4 736.4,1282.4 726.4,1276.4 716.4,1278.4 698.4,1275.4 688.4,1270.3 677.3,1260.3 677.3,1238.3 676.3,1230.3 664.3,1222.3 669.3,1208.2 666.3,1202.2 650.3,1198.2 640.3,1195.2 628.2,1198.2 618.2,1208.2 594.2,1210.2 583.2,1208.2 590.2,1192.2 598.2,1184.2 594.2,1170.2 578.2,1162.1 572.1,1154.1 564.1,1140.1 562.1,1126.1 568.1,1110.1 578.2,1102.0 584.2,1092.0" fill="none" stroke="#2a2c2d" stroke-width="4.5" stroke-linejoin="round"/><polygon points="770.5,1203.2 778.5,1209.2 785.5,1200.2 794.5,1198.2 796.6,1208.2 814.6,1211.2 831.6,1208.2 842.6,1200.2 850.6,1188.2 860.7,1184.2 856.7,1176.2 864.7,1173.2 880.7,1174.2 882.7,1184.2 896.7,1182.2 902.7,1200.2 898.7,1206.2 906.8,1216.2 922.8,1216.2 926.8,1232.3 924.8,1256.3 936.8,1268.3 942.8,1278.4 950.0,1282.4 955.0,1292.4 952.0,1310.4 959.0,1324.4 952.0,1330.5 936.8,1326.4 940.8,1338.5 922.7,1356.0 912.7,1370.1 926.8,1380.1 924.7,1412.1 922.7,1444.2 914.7,1464.2 890.7,1481.0 874.7,1476.2 850.6,1468.2 838.6,1460.2 822.6,1456.2 810.6,1464.2 794.5,1460.2 786.5,1470.2 754.5,1472.2 730.4,1480.2 706.4,1483.4 690.3,1476.2 688.3,1456.2 694.4,1432.2 690.3,1412.1 698.4,1392.1 696.4,1400.0 702.4,1384.5 708.4,1374.5 707.4,1364.5 712.4,1350.5 716.4,1332.5 726.4,1324.4 730.4,1316.4 740.5,1310.4 744.5,1298.4 750.5,1288.4 758.5,1280.4 762.5,1268.3 767.5,1250.3 772.5,1242.3 774.5,1234.3 776.5,1228.3 770.5,1203.2" fill="none" stroke="#2a2c2d" stroke-width="4.5" stroke-linejoin="round"/><polygon points="831.6,1208.2 828.6,1200.2 834.6,1180.2 828.6,1164.2 824.6,1150.1 822.6,1128.1 838.6,1123.1 856.7,1123.1 860.7,1129.1 868.7,1128.1 868.7,1110.1 882.7,1108.1 890.7,1086.0 902.7,1082.0 910.8,1080.0 918.8,1066.6 924.8,1064.1 938.8,1070.6 950.0,1078.6 950.0,1086.0 960.0,1092.0 970.0,1099.0 969.0,1110.1 980.1,1114.1 981.1,1109.1 991.1,1108.1 989.1,1103.0 979.1,1097.0 984.1,1090.0 1003.1,1092.0 1019.1,1094.0 1019.1,1103.0 1029.1,1104.0 1030.1,1090.0 1028.1,1080.0 1030.1,1072.6 1038.2,1069.6 1044.2,1071.6 1043.2,1080.0 1046.2,1080.0 1054.2,1088.0 1074.2,1084.0 1088.2,1082.0 1090.3,1080.0 1094.3,1091.0 1109.3,1099.0 1106.3,1107.0 1116.3,1116.1 1120.3,1118.5 1116.3,1120.1 1120.3,1130.1 1138.3,1144.1 1148.4,1154.1 1142.3,1166.2 1134.3,1178.2 1142.3,1188.2 1150.4,1204.2 1156.4,1220.3 1168.4,1234.3 1182.4,1236.3 1192.4,1248.3 1204.5,1262.3 1218.5,1270.3 1224.5,1282.4 1238.5,1286.4 1250.5,1298.4 1256.6,1300.4 1262.6,1316.4 1262.6,1330.5 1258.6,1342.5 1252.5,1352.5 1240.5,1344.5 1230.5,1342.5 1228.5,1360.5 1224.5,1374.5 1206.5,1382.5 1190.4,1386.6 1180.4,1394.6 1174.4,1400.0 1173.2,1400.1 1167.2,1412.1 1187.2,1444.2 1179.2,1460.2 1191.2,1492.3 1192.0,1500.3 1171.2,1481.0 1131.1,1480.2 1091.0,1478.2 1045.0,1486.3 1043.0,1500.3 990.9,1500.3 982.8,1485.0 956.8,1481.0 954.8,1500.3 922.7,1497.1 906.7,1490.3 890.7,1481.0 914.7,1464.2 922.7,1444.2 924.7,1412.1 926.8,1380.1 912.7,1370.1 922.7,1356.0 940.8,1338.5 936.8,1326.4 952.0,1330.5 959.0,1324.4 952.0,1310.4 955.0,1292.4 950.0,1282.4 942.8,1278.4 936.8,1268.3 924.8,1256.3 926.8,1232.3 922.8,1216.2 906.8,1216.2 898.7,1206.2 902.7,1200.2 896.7,1182.2 882.7,1184.2 880.7,1174.2 864.7,1173.2 856.7,1176.2 860.7,1184.2 850.6,1188.2 842.6,1200.2 831.6,1208.2" fill="none" stroke="#2a2c2d" stroke-width="4.5" stroke-linejoin="round"/><polygon points="646.3,818.1 668.3,813.1 690.4,799.1 694.4,784.0 704.4,788.1 708.4,796.1 724.4,799.1 730.4,808.1 724.4,820.1 734.4,829.1 729.4,839.1 722.4,841.1 730.4,848.2 750.5,837.1 766.5,837.1 778.5,824.1 772.5,818.1 774.5,799.1 759.5,788.1 774.5,786.0 778.5,778.0 790.5,775.0 796.6,780.0 798.6,796.1 814.6,793.1 826.6,779.0 834.6,782.0 833.6,797.1 820.6,812.1 828.6,819.1 826.6,831.1 836.6,836.1 840.6,852.2 848.6,860.2 856.7,873.2 864.7,876.2 858.7,890.2 856.7,907.3 852.7,912.3 850.6,930.3 834.6,936.3 810.6,942.3 794.5,947.3 784.5,958.4 786.5,964.4 798.6,961.4 800.6,976.4 794.5,982.4 778.5,988.4 778.5,1000.4 770.5,1012.5 756.5,1020.5 744.5,1030.5 743.5,1042.5 736.4,1042.5 728.4,1028.5 718.4,1018.5 716.4,1010.5 708.4,1013.5 706.4,1022.5 694.4,1034.5 672.3,1040.5 670.3,1048.5 646.3,1058.5 630.3,1072.6 620.2,1080.0 622.2,1090.0 610.2,1089.0 584.2,1092.0 580.2,1080.0 568.1,1068.6 574.2,1056.5 556.1,1040.5 550.1,1028.5 556.1,1018.5 546.1,1008.4 540.1,994.4 550.1,986.4 558.1,975.4 564.1,962.4 570.1,948.3 569.1,930.3 560.1,918.3 558.1,904.3 546.1,892.2 547.1,880.2 556.1,876.2 566.1,871.2 578.2,874.2 584.2,878.2 602.2,872.2 618.2,866.2 623.2,857.2 612.2,848.2 614.2,840.1 630.3,834.1 638.3,824.1 646.3,818.1" fill="none" stroke="#2a2c2d" stroke-width="4.5" stroke-linejoin="round"/><polygon points="583.2,1208.2 594.2,1210.2 618.2,1208.2 628.2,1198.2 640.3,1195.2 650.3,1198.2 666.3,1202.2 669.3,1208.2 664.3,1222.3 676.3,1230.3 677.3,1238.3 677.3,1260.3 670.3,1265.3 650.3,1267.3 644.3,1264.3 618.2,1246.3 602.2,1234.3 598.2,1222.3 583.2,1216.2 583.2,1208.2" fill="none" stroke="#2a2c2d" stroke-width="4.5" stroke-linejoin="round"/><polygon points="774.5,670.4 784.5,670.4 794.5,677.4 806.6,679.4 818.6,680.4 821.6,686.4 810.6,688.4 790.5,686.4 786.5,678.4 778.5,675.4" fill="none" stroke="#2a2c2d" stroke-width="4.5" stroke-linejoin="round"/><polygon points="779.5,613.3 790.5,612.3 792.5,628.3 784.5,629.3 778.5,633.3 776.5,630.3 784.5,622.3" fill="none" stroke="#2a2c2d" stroke-width="4.5" stroke-linejoin="round"/><polygon points="890.7,613.3 902.7,610.3 912.8,600.3 920.8,598.3 927.8,593.3 930.8,594.7 931.8,604.3 937.2,608.7 933.8,616.3 940.8,620.3 950.0,630.3 954.0,637.4 950.0,640.4 944.8,640.4 938.8,644.4 930.8,644.8 920.8,637.4 907.8,638.8 898.7,632.3 894.7,621.3" fill="none" stroke="#2a2c2d" stroke-width="4.5" stroke-linejoin="round"/><polygon points="1200.0,766.9 1214.4,756.5 1233.1,754.5 1235.1,768.9 1253.8,787.6 1247.5,804.1 1224.8,795.8 1204.1,795.8 1191.7,787.6" fill="none" stroke="#2a2c2d" stroke-width="4.5" stroke-linejoin="round"/><polygon points="641.3,642.4 643.3,627.3 650.3,620.3 660.3,604.3 688.4,598.3 720.4,594.3 735.4,598.3 736.4,606.3 747.5,612.3 747.5,626.3 737.4,628.3 740.5,635.4 753.5,644.4 760.5,637.4 760.5,625.3 752.5,624.3 756.5,611.3 767.5,612.3 779.5,620.3 775.5,598.3 786.5,569.2 796.6,570.2 812.6,577.2 826.6,569.8 848.6,570.2 858.7,582.3 866.7,596.3 873.7,606.3 890.7,620.3 910.8,630.3 950.0,640.4 960.0,644.4 970.0,648.4 982.1,650.4 990.1,657.4 998.1,652.4 1010.1,666.4 1020.1,684.4 1030.1,688.4 1036.2,696.5 1046.2,693.5 1057.2,700.1 1050.2,708.5 1046.2,717.5 1030.1,722.5 1016.1,717.5 1004.1,719.5 999.1,726.5 983.1,729.5 983.1,738.5 989.1,752.6 997.1,760.0 1003.1,778.0 999.1,786.0 1010.1,798.1 1006.1,810.1 1013.1,820.1 1007.1,829.1 1004.1,838.1 998.1,842.1 993.1,846.2 973.0,847.2 965.0,853.2 972.0,860.2 970.0,872.2 966.0,878.2 967.0,888.2 975.6,904.7 974.0,914.3 971.0,918.3 950.0,918.3 930.8,932.3 906.8,943.3 902.7,944.3 888.7,955.4 873.7,950.3 878.7,930.3 884.7,916.3 880.7,907.3 862.7,904.3 856.7,907.3 858.7,890.2 864.7,876.2 856.7,873.2 848.6,860.2 840.6,852.2 836.6,836.1 826.6,831.1 828.6,819.1 820.6,812.1 833.6,797.1 834.6,782.0 826.6,779.0 814.6,793.1 798.6,796.1 796.6,780.0 790.5,775.0 778.5,778.0 774.5,786.0 759.5,788.1 774.5,799.1 772.5,818.1 778.5,824.1 766.5,837.1 750.5,837.1 730.4,848.2 722.4,841.1 729.4,839.1 734.4,829.1 724.4,820.1 730.4,808.1 724.4,799.1 708.4,796.1 704.4,788.1 694.4,784.0 690.4,799.1 668.3,813.1 646.3,818.1 642.3,812.1 646.3,800.1 640.3,788.1 628.2,786.0 612.2,772.0 614.2,760.0 645.3,760.0 648.3,728.5 660.3,700.5 657.3,684.4 661.3,664.4 662.3,656.4 642.3,653.4 641.3,642.4" fill="#6e98bb" stroke="#6e98bb" stroke-width="1" stroke-linejoin="round"/><polygon points="778.5,460.6 786.5,466.0 790.5,470.1 802.6,466.0 810.6,472.1 822.6,474.1 818.6,483.1 790.5,493.1 785.5,504.1 796.6,508.1 808.6,509.1 806.6,528.2 818.6,534.2 819.6,544.2 808.6,548.2 812.6,558.2 818.6,564.2 826.6,569.8 848.6,570.2 858.7,582.3 866.7,596.3 873.7,606.3 890.7,620.3 910.8,630.3 950.0,640.4 960.0,644.4 970.0,648.4 971.0,638.4 976.0,633.3 987.1,626.3 989.1,616.3 998.1,612.3 1000.1,600.3 988.1,594.3 983.1,584.3 984.1,570.2 995.1,560.2 983.1,544.2 1000.1,528.2 1012.1,512.1 1010.1,490.1 1020.1,487.1 1032.1,488.1 1026.1,474.1 1014.1,469.1 1006.1,478.1 1008.1,484.1 998.1,500.1 978.1,504.1 950.0,486.1 950.0,483.1 933.8,487.1 927.8,498.1 928.8,478.1 912.8,481.1 898.7,477.1 910.8,472.1 916.8,460.6" fill="#93b0c5" stroke="#93b0c5" stroke-width="1" stroke-linejoin="round"/><polygon points="995.1,560.2 1014.1,549.2 1028.1,560.2 1044.2,564.2 1050.2,548.2 1062.2,534.2 1078.2,526.2 1104.3,523.1 1108.3,536.2 1110.3,528.2 1122.3,508.1 1150.4,490.1 1195.4,480.1 1270.6,480.1 1278.6,539.2 1288.6,556.2 1298.6,564.2 1299.6,580.3 1303.6,595.3 1305.6,610.3 1308.6,630.3 1310.6,640.4 1314.7,648.4 1317.7,660.4 1299.6,666.4 1286.6,664.4 1295.6,652.4 1302.6,640.4 1290.6,638.4 1270.6,638.4 1265.6,628.3 1258.6,619.3 1256.6,626.3 1246.5,634.3 1236.5,643.4 1234.5,656.4 1220.5,664.4 1210.5,668.4 1198.4,668.4 1188.4,678.4 1166.4,674.4 1156.4,667.4 1136.3,666.4 1126.3,656.4 1110.3,650.4 1098.3,652.4 1090.3,662.4 1078.2,668.4 1062.2,668.4 1054.2,678.4 1054.2,685.4 1040.2,685.4 1030.1,688.4 1020.1,684.4 1010.1,666.4 998.1,652.4 990.1,657.4 982.1,650.4 970.0,648.4 971.0,638.4 976.0,633.3 987.1,626.3 989.1,616.3 998.1,612.3 1000.1,600.3 988.1,594.3 983.1,584.3 984.1,570.2 995.1,560.2" fill="#cbced9" stroke="#cbced9" stroke-width="1" stroke-linejoin="round"/><polygon points="1030.1,688.4 1040.2,685.4 1054.2,685.4 1054.2,678.4 1062.2,668.4 1078.2,668.4 1090.3,662.4 1098.3,652.4 1110.3,650.4 1126.3,656.4 1136.3,666.4 1156.4,667.4 1166.4,674.4 1188.4,678.4 1198.4,668.4 1210.5,668.4 1220.5,664.4 1234.5,656.4 1236.5,643.4 1246.5,634.3 1256.6,626.3 1258.6,619.3 1265.6,628.3 1270.6,638.4 1290.6,638.4 1302.6,640.4 1295.6,652.4 1286.6,664.4 1299.6,666.4 1317.7,660.4 1312.7,676.4 1311.7,698.5 1290.6,710.5 1290.6,720.5 1288.6,728.5 1302.6,740.5 1316.7,752.6 1326.7,760.0 1334.7,770.0 1327.7,794.1 1332.7,810.1 1342.7,818.1 1340.7,834.1 1346.7,844.2 1341.7,864.2 1331.7,880.2 1338.7,890.2 1346.7,904.3 1345.7,917.3 1328.7,915.3 1308.6,925.3 1290.6,922.3 1282.6,930.3 1278.6,944.3 1254.5,948.3 1238.5,945.3 1223.5,935.3 1210.5,943.3 1204.5,940.3 1206.5,926.3 1200.5,914.3 1191.4,906.3 1205.5,896.2 1202.5,890.2 1200.5,872.2 1190.4,871.2 1182.4,864.2 1172.4,860.2 1158.4,853.2 1142.3,854.2 1126.3,844.2 1115.3,829.1 1120.3,820.1 1122.3,802.1 1126.3,781.0 1109.3,772.0 1114.3,760.0 1115.3,746.6 1119.3,734.5 1116.3,722.5 1098.3,722.5 1082.2,718.5 1078.2,708.5 1066.2,706.5 1057.2,700.1 1046.2,693.5 1036.2,696.5 1030.1,688.4" fill="#afbecd" stroke="#afbecd" stroke-width="1" stroke-linejoin="round"/><polygon points="1057.2,700.1 1066.2,706.5 1078.2,708.5 1082.2,718.5 1098.3,722.5 1116.3,722.5 1119.3,734.5 1115.3,746.6 1114.3,760.0 1109.3,772.0 1126.3,781.0 1122.3,802.1 1120.3,820.1 1115.3,829.1 1126.3,844.2 1142.3,854.2 1158.4,853.2 1172.4,860.2 1182.4,864.2 1190.4,871.2 1200.5,872.2 1202.5,890.2 1205.5,896.2 1191.4,906.3 1176.4,903.3 1170.4,901.3 1158.4,906.3 1136.3,912.3 1126.3,916.3 1114.3,920.3 1112.3,936.3 1112.3,960.4 1114.3,976.4 1120.3,986.4 1122.3,998.4 1116.3,1007.4 1098.3,1004.4 1090.3,995.4 1078.2,993.4 1070.2,990.4 1060.2,984.4 1047.2,983.4 1048.2,974.4 1039.2,966.4 1048.2,957.4 1042.2,950.3 1036.2,941.3 1016.1,941.3 1002.1,930.3 998.1,916.3 996.1,909.3 982.1,903.3 975.6,904.7 967.0,888.2 966.0,878.2 970.0,872.2 972.0,860.2 965.0,853.2 973.0,847.2 993.1,846.2 998.1,842.1 1004.1,838.1 1007.1,829.1 1013.1,820.1 1006.1,810.1 1010.1,798.1 999.1,786.0 1003.1,778.0 997.1,760.0 989.1,752.6 983.1,738.5 983.1,729.5 999.1,726.5 1004.1,719.5 1016.1,717.5 1030.1,722.5 1046.2,717.5 1050.2,708.5 1057.2,700.1" fill="#afbecd" stroke="#afbecd" stroke-width="1" stroke-linejoin="round"/><polygon points="1191.4,906.3 1200.5,914.3 1206.5,926.3 1204.5,940.3 1210.5,943.3 1223.5,935.3 1238.5,945.3 1254.5,948.3 1278.6,944.3 1282.6,930.3 1290.6,922.3 1308.6,925.3 1328.7,915.3 1345.7,917.3 1364.7,934.3 1368.8,952.3 1372.8,958.4 1368.8,984.4 1360.7,1006.4 1350.7,1024.5 1342.7,1026.5 1335.7,1018.5 1330.7,1004.4 1324.7,997.4 1306.6,993.4 1302.6,1000.4 1316.7,1009.4 1312.7,1014.5 1294.6,1020.5 1268.6,1032.5 1262.6,1038.5 1236.5,1042.5 1228.5,1054.5 1208.5,1060.5 1203.5,1070.6 1189.4,1074.6 1188.4,1080.0 1182.4,1085.0 1168.4,1080.0 1162.4,1084.0 1140.3,1090.0 1130.3,1102.0 1124.3,1118.1 1120.3,1118.5 1116.3,1116.1 1106.3,1107.0 1109.3,1099.0 1094.3,1091.0 1090.3,1080.0 1086.2,1070.6 1088.2,1060.5 1096.3,1054.5 1100.3,1062.5 1110.3,1056.5 1124.3,1048.5 1117.3,1040.5 1120.3,1026.5 1138.3,1020.5 1154.4,1018.5 1153.4,1003.4 1146.4,998.4 1138.3,988.4 1120.3,986.4 1114.3,976.4 1112.3,960.4 1112.3,936.3 1114.3,920.3 1126.3,916.3 1136.3,912.3 1158.4,906.3 1170.4,901.3 1176.4,903.3 1191.4,906.3" fill="#93b0c5" stroke="#93b0c5" stroke-width="1" stroke-linejoin="round"/><polygon points="975.6,904.7 982.1,903.3 996.1,909.3 998.1,916.3 1002.1,930.3 1016.1,941.3 1036.2,941.3 1042.2,950.3 1048.2,957.4 1039.2,966.4 1048.2,974.4 1047.2,983.4 1060.2,984.4 1070.2,990.4 1078.2,993.4 1090.3,995.4 1098.3,1004.4 1116.3,1007.4 1122.3,998.4 1120.3,986.4 1138.3,988.4 1146.4,998.4 1153.4,1003.4 1154.4,1018.5 1138.3,1020.5 1120.3,1026.5 1117.3,1040.5 1124.3,1048.5 1110.3,1056.5 1100.3,1062.5 1096.3,1054.5 1088.2,1060.5 1086.2,1070.6 1090.3,1080.0 1088.2,1082.0 1074.2,1084.0 1054.2,1088.0 1046.2,1080.0 1043.2,1080.0 1044.2,1071.6 1038.2,1069.6 1030.1,1072.6 1028.1,1080.0 1030.1,1090.0 1029.1,1104.0 1019.1,1103.0 1019.1,1094.0 1003.1,1092.0 984.1,1090.0 979.1,1097.0 989.1,1103.0 991.1,1108.1 981.1,1109.1 980.1,1114.1 969.0,1110.1 970.0,1099.0 960.0,1092.0 950.0,1086.0 950.0,1078.6 938.8,1070.6 924.8,1064.1 918.8,1066.6 920.8,1056.5 918.8,1048.5 910.8,1054.5 902.7,1050.5 908.8,1036.5 916.8,1018.5 908.8,1010.5 916.8,1008.4 914.8,1000.4 930.8,996.4 926.8,980.4 933.8,975.4 920.8,968.4 908.8,956.4 906.8,943.3 930.8,932.3 950.0,918.3 971.0,918.3 974.0,914.3 975.6,904.7" fill="#afbecd" stroke="#afbecd" stroke-width="1" stroke-linejoin="round"/><polygon points="856.7,907.3 862.7,904.3 880.7,907.3 884.7,916.3 878.7,930.3 873.7,950.3 888.7,955.4 902.7,944.3 906.8,943.3 908.8,956.4 920.8,968.4 933.8,975.4 926.8,980.4 930.8,996.4 914.8,1000.4 916.8,1008.4 908.8,1010.5 916.8,1018.5 908.8,1036.5 902.7,1050.5 910.8,1054.5 918.8,1048.5 920.8,1056.5 918.8,1066.6 910.8,1080.0 902.7,1082.0 890.7,1086.0 882.7,1108.1 868.7,1110.1 868.7,1128.1 860.7,1129.1 856.7,1123.1 838.6,1123.1 822.6,1128.1 824.6,1150.1 828.6,1164.2 834.6,1180.2 828.6,1200.2 831.6,1208.2 814.6,1211.2 796.6,1208.2 794.5,1198.2 785.5,1200.2 778.5,1209.2 770.5,1203.2 766.5,1192.2 768.5,1182.2 774.5,1177.2 766.5,1166.2 763.5,1154.1 748.5,1138.1 730.4,1146.1 719.4,1146.1 718.4,1138.1 711.4,1135.1 718.4,1128.1 722.4,1116.1 734.4,1106.0 743.5,1100.0 738.4,1088.0 733.4,1080.0 732.4,1068.6 745.5,1056.5 743.5,1042.5 744.5,1030.5 756.5,1020.5 770.5,1012.5 778.5,1000.4 778.5,988.4 794.5,982.4 800.6,976.4 798.6,961.4 786.5,964.4 784.5,958.4 794.5,947.3 810.6,942.3 834.6,936.3 850.6,930.3 852.7,912.3 856.7,907.3" fill="#6e98bb" stroke="#6e98bb" stroke-width="1" stroke-linejoin="round"/><polygon points="584.2,1092.0 610.2,1089.0 622.2,1090.0 620.2,1080.0 630.3,1072.6 646.3,1058.5 670.3,1048.5 672.3,1040.5 694.4,1034.5 706.4,1022.5 708.4,1013.5 716.4,1010.5 718.4,1018.5 728.4,1028.5 736.4,1042.5 743.5,1042.5 745.5,1056.5 732.4,1068.6 733.4,1080.0 738.4,1088.0 743.5,1100.0 734.4,1106.0 722.4,1116.1 718.4,1128.1 711.4,1135.1 718.4,1138.1 719.4,1146.1 730.4,1146.1 748.5,1138.1 763.5,1154.1 766.5,1166.2 774.5,1177.2 768.5,1182.2 766.5,1192.2 770.5,1203.2 776.5,1228.3 774.5,1234.3 772.5,1242.3 767.5,1250.3 762.5,1268.3 758.5,1280.4 750.5,1288.4 736.4,1282.4 726.4,1276.4 716.4,1278.4 698.4,1275.4 688.4,1270.3 677.3,1260.3 677.3,1238.3 676.3,1230.3 664.3,1222.3 669.3,1208.2 666.3,1202.2 650.3,1198.2 640.3,1195.2 628.2,1198.2 618.2,1208.2 594.2,1210.2 583.2,1208.2 590.2,1192.2 598.2,1184.2 594.2,1170.2 578.2,1162.1 572.1,1154.1 564.1,1140.1 562.1,1126.1 568.1,1110.1 578.2,1102.0 584.2,1092.0" fill="#6e98bb" stroke="#6e98bb" stroke-width="1" stroke-linejoin="round"/><polygon points="770.5,1203.2 778.5,1209.2 785.5,1200.2 794.5,1198.2 796.6,1208.2 814.6,1211.2 831.6,1208.2 842.6,1200.2 850.6,1188.2 860.7,1184.2 856.7,1176.2 864.7,1173.2 880.7,1174.2 882.7,1184.2 896.7,1182.2 902.7,1200.2 898.7,1206.2 906.8,1216.2 922.8,1216.2 926.8,1232.3 924.8,1256.3 936.8,1268.3 942.8,1278.4 950.0,1282.4 955.0,1292.4 952.0,1310.4 959.0,1324.4 952.0,1330.5 936.8,1326.4 940.8,1338.5 922.7,1356.0 912.7,1370.1 926.8,1380.1 924.7,1412.1 922.7,1444.2 914.7,1464.2 890.7,1481.0 874.7,1476.2 850.6,1468.2 838.6,1460.2 822.6,1456.2 810.6,1464.2 794.5,1460.2 786.5,1470.2 754.5,1472.2 730.4,1480.2 706.4,1483.4 690.3,1476.2 688.3,1456.2 694.4,1432.2 690.3,1412.1 698.4,1392.1 696.4,1400.0 702.4,1384.5 708.4,1374.5 707.4,1364.5 712.4,1350.5 716.4,1332.5 726.4,1324.4 730.4,1316.4 740.5,1310.4 744.5,1298.4 750.5,1288.4 758.5,1280.4 762.5,1268.3 767.5,1250.3 772.5,1242.3 774.5,1234.3 776.5,1228.3 770.5,1203.2" fill="#234c8b" stroke="#234c8b" stroke-width="1" stroke-linejoin="round"/><polygon points="831.6,1208.2 828.6,1200.2 834.6,1180.2 828.6,1164.2 824.6,1150.1 822.6,1128.1 838.6,1123.1 856.7,1123.1 860.7,1129.1 868.7,1128.1 868.7,1110.1 882.7,1108.1 890.7,1086.0 902.7,1082.0 910.8,1080.0 918.8,1066.6 924.8,1064.1 938.8,1070.6 950.0,1078.6 950.0,1086.0 960.0,1092.0 970.0,1099.0 969.0,1110.1 980.1,1114.1 981.1,1109.1 991.1,1108.1 989.1,1103.0 979.1,1097.0 984.1,1090.0 1003.1,1092.0 1019.1,1094.0 1019.1,1103.0 1029.1,1104.0 1030.1,1090.0 1028.1,1080.0 1030.1,1072.6 1038.2,1069.6 1044.2,1071.6 1043.2,1080.0 1046.2,1080.0 1054.2,1088.0 1074.2,1084.0 1088.2,1082.0 1090.3,1080.0 1094.3,1091.0 1109.3,1099.0 1106.3,1107.0 1116.3,1116.1 1120.3,1118.5 1116.3,1120.1 1120.3,1130.1 1138.3,1144.1 1148.4,1154.1 1142.3,1166.2 1134.3,1178.2 1142.3,1188.2 1150.4,1204.2 1156.4,1220.3 1168.4,1234.3 1182.4,1236.3 1192.4,1248.3 1204.5,1262.3 1218.5,1270.3 1224.5,1282.4 1238.5,1286.4 1250.5,1298.4 1256.6,1300.4 1262.6,1316.4 1262.6,1330.5 1258.6,1342.5 1252.5,1352.5 1240.5,1344.5 1230.5,1342.5 1228.5,1360.5 1224.5,1374.5 1206.5,1382.5 1190.4,1386.6 1180.4,1394.6 1174.4,1400.0 1173.2,1400.1 1167.2,1412.1 1187.2,1444.2 1179.2,1460.2 1191.2,1492.3 1192.0,1500.3 1171.2,1481.0 1131.1,1480.2 1091.0,1478.2 1045.0,1486.3 1043.0,1500.3 990.9,1500.3 982.8,1485.0 956.8,1481.0 954.8,1500.3 922.7,1497.1 906.7,1490.3 890.7,1481.0 914.7,1464.2 922.7,1444.2 924.7,1412.1 926.8,1380.1 912.7,1370.1 922.7,1356.0 940.8,1338.5 936.8,1326.4 952.0,1330.5 959.0,1324.4 952.0,1310.4 955.0,1292.4 950.0,1282.4 942.8,1278.4 936.8,1268.3 924.8,1256.3 926.8,1232.3 922.8,1216.2 906.8,1216.2 898.7,1206.2 902.7,1200.2 896.7,1182.2 882.7,1184.2 880.7,1174.2 864.7,1173.2 856.7,1176.2 860.7,1184.2 850.6,1188.2 842.6,1200.2 831.6,1208.2" fill="#234c8b" stroke="#234c8b" stroke-width="1" stroke-linejoin="round"/><polygon points="646.3,818.1 668.3,813.1 690.4,799.1 694.4,784.0 704.4,788.1 708.4,796.1 724.4,799.1 730.4,808.1 724.4,820.1 734.4,829.1 729.4,839.1 722.4,841.1 730.4,848.2 750.5,837.1 766.5,837.1 778.5,824.1 772.5,818.1 774.5,799.1 759.5,788.1 774.5,786.0 778.5,778.0 790.5,775.0 796.6,780.0 798.6,796.1 814.6,793.1 826.6,779.0 834.6,782.0 833.6,797.1 820.6,812.1 828.6,819.1 826.6,831.1 836.6,836.1 840.6,852.2 848.6,860.2 856.7,873.2 864.7,876.2 858.7,890.2 856.7,907.3 852.7,912.3 850.6,930.3 834.6,936.3 810.6,942.3 794.5,947.3 784.5,958.4 786.5,964.4 798.6,961.4 800.6,976.4 794.5,982.4 778.5,988.4 778.5,1000.4 770.5,1012.5 756.5,1020.5 744.5,1030.5 743.5,1042.5 736.4,1042.5 728.4,1028.5 718.4,1018.5 716.4,1010.5 708.4,1013.5 706.4,1022.5 694.4,1034.5 672.3,1040.5 670.3,1048.5 646.3,1058.5 630.3,1072.6 620.2,1080.0 622.2,1090.0 610.2,1089.0 584.2,1092.0 580.2,1080.0 568.1,1068.6 574.2,1056.5 556.1,1040.5 550.1,1028.5 556.1,1018.5 546.1,1008.4 540.1,994.4 550.1,986.4 558.1,975.4 564.1,962.4 570.1,948.3 569.1,930.3 560.1,918.3 558.1,904.3 546.1,892.2 547.1,880.2 556.1,876.2 566.1,871.2 578.2,874.2 584.2,878.2 602.2,872.2 618.2,866.2 623.2,857.2 612.2,848.2 614.2,840.1 630.3,834.1 638.3,824.1 646.3,818.1" fill="#4475a6" stroke="#4475a6" stroke-width="1" stroke-linejoin="round"/><polygon points="583.2,1208.2 594.2,1210.2 618.2,1208.2 628.2,1198.2 640.3,1195.2 650.3,1198.2 666.3,1202.2 669.3,1208.2 664.3,1222.3 676.3,1230.3 677.3,1238.3 677.3,1260.3 670.3,1265.3 650.3,1267.3 644.3,1264.3 618.2,1246.3 602.2,1234.3 598.2,1222.3 583.2,1216.2 583.2,1208.2" fill="#234c8b" stroke="#234c8b" stroke-width="1" stroke-linejoin="round"/><polygon points="774.5,670.4 784.5,670.4 794.5,677.4 806.6,679.4 818.6,680.4 821.6,686.4 810.6,688.4 790.5,686.4 786.5,678.4 778.5,675.4" fill="#93b0c5" stroke="#93b0c5" stroke-width="1" stroke-linejoin="round"/><polygon points="779.5,613.3 790.5,612.3 792.5,628.3 784.5,629.3 778.5,633.3 776.5,630.3 784.5,622.3" fill="#93b0c5" stroke="#93b0c5" stroke-width="1" stroke-linejoin="round"/><polygon points="890.7,613.3 902.7,610.3 912.8,600.3 920.8,598.3 927.8,593.3 930.8,594.7 931.8,604.3 937.2,608.7 933.8,616.3 940.8,620.3 950.0,630.3 954.0,637.4 950.0,640.4 944.8,640.4 938.8,644.4 930.8,644.8 920.8,637.4 907.8,638.8 898.7,632.3 894.7,621.3" fill="#234c8b" stroke="#234c8b" stroke-width="1" stroke-linejoin="round"/><polygon points="1200.0,766.9 1214.4,756.5 1233.1,754.5 1235.1,768.9 1253.8,787.6 1247.5,804.1 1224.8,795.8 1204.1,795.8 1191.7,787.6" fill="#6e98bb" stroke="#6e98bb" stroke-width="1" stroke-linejoin="round"/><polygon points="1234.1,461.6 1248.9,461.6 1249.3,472.1 1234.1,472.1" fill="#cbced9"/><polygon points="1196.0,465.0 1202.9,462.4 1205.5,467.0 1198.4,470.1" fill="#cbced9" fill-opacity=".85"/><polygon points="1208.5,462.0 1217.5,461.2 1219.5,465.6 1210.5,468.1" fill="#cbced9" fill-opacity=".85"/><polygon points="1221.5,463.6 1230.5,462.0 1231.5,468.1 1223.5,470.1" fill="#cbced9" fill-opacity=".85"/><polygon points="1212.5,468.5 1218.5,467.6 1219.5,471.3 1213.5,471.7" fill="#cbced9" fill-opacity=".85"/><polygon points="1267.6,576.2 1280.6,571.2 1299.6,570.2 1310.6,568.2 1330.7,572.2 1334.7,588.3 1328.7,600.3 1334.7,606.3 1339.7,629.3 1334.7,630.3 1326.7,610.3 1310.6,598.3 1303.6,589.3 1290.6,591.3 1274.6,584.3" fill="#1e2225"/><polygon points="1256.6,544.2 1270.6,541.2 1281.6,552.2 1273.6,568.2 1263.6,571.2 1268.6,558.2 1260.6,552.2" fill="#1e2225"/><polyline points="1057.2,700.1 1066.2,706.5 1078.2,708.5 1082.2,718.5 1098.3,722.5 1116.3,722.5 1119.3,734.5 1115.3,746.6 1114.3,760.0 1109.3,772.0 1126.3,781.0 1122.3,802.1 1120.3,820.1 1115.3,829.1 1126.3,844.2 1142.3,854.2 1158.4,853.2 1172.4,860.2 1182.4,864.2 1190.4,871.2 1200.5,872.2 1202.5,890.2 1205.5,896.2 1191.4,906.3" fill="none" stroke="#5d6f80" stroke-opacity=".55" stroke-width="1.2"/><polyline points="975.6,904.7 982.1,903.3 996.1,909.3 998.1,916.3 1002.1,930.3 1016.1,941.3 1036.2,941.3 1042.2,950.3 1048.2,957.4 1039.2,966.4 1048.2,974.4 1047.2,983.4 1060.2,984.4 1070.2,990.4 1078.2,993.4 1090.3,995.4 1098.3,1004.4 1116.3,1007.4 1122.3,998.4 1120.3,986.4" fill="none" stroke="#5d6f80" stroke-opacity=".55" stroke-width="1.2"/><polyline points="831.6,1208.2 842.6,1200.2 850.6,1188.2 860.7,1184.2 856.7,1176.2 864.7,1173.2 880.7,1174.2 882.7,1184.2 896.7,1182.2 902.7,1200.2 898.7,1206.2 906.8,1216.2 922.8,1216.2 926.8,1232.3 924.8,1256.3 936.8,1268.3 942.8,1278.4 950.0,1282.4 955.0,1292.4 952.0,1310.4 959.0,1324.4 952.0,1330.5 936.8,1326.4 940.8,1338.5 922.7,1356.0 912.7,1370.1 926.8,1380.1 924.7,1412.1 922.7,1444.2 914.7,1464.2 890.7,1481.0" fill="none" stroke="#5d6f80" stroke-opacity=".55" stroke-width="1.2"/><polyline points="743.5,1042.5 745.5,1056.5 732.4,1068.6 733.4,1080.0 738.4,1088.0 743.5,1100.0 734.4,1106.0 722.4,1116.1 718.4,1128.1 711.4,1135.1 718.4,1138.1 719.4,1146.1 730.4,1146.1 748.5,1138.1 763.5,1154.1 766.5,1166.2 774.5,1177.2 768.5,1182.2 766.5,1192.2 770.5,1203.2" fill="none" stroke="#5d6f80" stroke-opacity=".55" stroke-width="1.2"/><polyline points="856.7,907.3 862.7,904.3 880.7,907.3 884.7,916.3 878.7,930.3 873.7,950.3 888.7,955.4 902.7,944.3 906.8,943.3" fill="none" stroke="#5d6f80" stroke-opacity=".55" stroke-width="1.2"/><polyline points="1317.7,660.4 1299.6,666.4 1286.6,664.4 1295.6,652.4 1302.6,640.4 1290.6,638.4 1270.6,638.4 1265.6,628.3 1258.6,619.3 1256.6,626.3 1246.5,634.3 1236.5,643.4 1234.5,656.4 1220.5,664.4 1210.5,668.4 1198.4,668.4 1188.4,678.4 1166.4,674.4 1156.4,667.4 1136.3,666.4 1126.3,656.4 1110.3,650.4 1098.3,652.4 1090.3,662.4 1078.2,668.4 1062.2,668.4 1054.2,678.4 1054.2,685.4 1040.2,685.4 1030.1,688.4" fill="none" stroke="#5d6f80" stroke-opacity=".55" stroke-width="1.2"/><polyline points="1191.4,906.3 1176.4,903.3 1170.4,901.3 1158.4,906.3 1136.3,912.3 1126.3,916.3 1114.3,920.3 1112.3,936.3 1112.3,960.4 1114.3,976.4 1120.3,986.4" fill="none" stroke="#5d6f80" stroke-opacity=".55" stroke-width="1.2"/><polyline points="1191.4,906.3 1200.5,914.3 1206.5,926.3 1204.5,940.3 1210.5,943.3 1223.5,935.3 1238.5,945.3 1254.5,948.3 1278.6,944.3 1282.6,930.3 1290.6,922.3 1308.6,925.3 1328.7,915.3 1345.7,917.3" fill="none" stroke="#5d6f80" stroke-opacity=".55" stroke-width="1.2"/><polyline points="1120.3,986.4 1138.3,988.4 1146.4,998.4 1153.4,1003.4 1154.4,1018.5 1138.3,1020.5 1120.3,1026.5 1117.3,1040.5 1124.3,1048.5 1110.3,1056.5 1100.3,1062.5 1096.3,1054.5 1088.2,1060.5 1086.2,1070.6 1090.3,1080.0" fill="none" stroke="#5d6f80" stroke-opacity=".55" stroke-width="1.2"/><polyline points="1057.2,700.1 1050.2,708.5 1046.2,717.5 1030.1,722.5 1016.1,717.5 1004.1,719.5 999.1,726.5 983.1,729.5 983.1,738.5 989.1,752.6 997.1,760.0 1003.1,778.0 999.1,786.0 1010.1,798.1 1006.1,810.1 1013.1,820.1 1007.1,829.1 1004.1,838.1 998.1,842.1 993.1,846.2 973.0,847.2 965.0,853.2 972.0,860.2 970.0,872.2 966.0,878.2 967.0,888.2 975.6,904.7" fill="none" stroke="#5d6f80" stroke-opacity=".55" stroke-width="1.2"/><polyline points="906.8,943.3 908.8,956.4 920.8,968.4 933.8,975.4 926.8,980.4 930.8,996.4 914.8,1000.4 916.8,1008.4 908.8,1010.5 916.8,1018.5 908.8,1036.5 902.7,1050.5 910.8,1054.5 918.8,1048.5 920.8,1056.5 918.8,1066.6" fill="none" stroke="#5d6f80" stroke-opacity=".55" stroke-width="1.2"/><polyline points="975.6,904.7 974.0,914.3 971.0,918.3 950.0,918.3 930.8,932.3 906.8,943.3" fill="none" stroke="#5d6f80" stroke-opacity=".55" stroke-width="1.2"/><polyline points="646.3,818.1 668.3,813.1 690.4,799.1 694.4,784.0 704.4,788.1 708.4,796.1 724.4,799.1 730.4,808.1 724.4,820.1 734.4,829.1 729.4,839.1 722.4,841.1 730.4,848.2 750.5,837.1 766.5,837.1 778.5,824.1 772.5,818.1 774.5,799.1 759.5,788.1 774.5,786.0 778.5,778.0 790.5,775.0 796.6,780.0 798.6,796.1 814.6,793.1 826.6,779.0 834.6,782.0 833.6,797.1 820.6,812.1 828.6,819.1 826.6,831.1 836.6,836.1 840.6,852.2 848.6,860.2 856.7,873.2 864.7,876.2 858.7,890.2 856.7,907.3" fill="none" stroke="#5d6f80" stroke-opacity=".55" stroke-width="1.2"/><polyline points="856.7,907.3 852.7,912.3 850.6,930.3 834.6,936.3 810.6,942.3 794.5,947.3 784.5,958.4 786.5,964.4 798.6,961.4 800.6,976.4 794.5,982.4 778.5,988.4 778.5,1000.4 770.5,1012.5 756.5,1020.5 744.5,1030.5 743.5,1042.5" fill="none" stroke="#5d6f80" stroke-opacity=".55" stroke-width="1.2"/><polyline points="743.5,1042.5 736.4,1042.5 728.4,1028.5 718.4,1018.5 716.4,1010.5 708.4,1013.5 706.4,1022.5 694.4,1034.5 672.3,1040.5 670.3,1048.5 646.3,1058.5 630.3,1072.6 620.2,1080.0 622.2,1090.0 610.2,1089.0 584.2,1092.0" fill="none" stroke="#5d6f80" stroke-opacity=".55" stroke-width="1.2"/><polyline points="831.6,1208.2 828.6,1200.2 834.6,1180.2 828.6,1164.2 824.6,1150.1 822.6,1128.1 838.6,1123.1 856.7,1123.1 860.7,1129.1 868.7,1128.1 868.7,1110.1 882.7,1108.1 890.7,1086.0 902.7,1082.0 910.8,1080.0 918.8,1066.6" fill="none" stroke="#5d6f80" stroke-opacity=".55" stroke-width="1.2"/><polyline points="770.5,1203.2 778.5,1209.2 785.5,1200.2 794.5,1198.2 796.6,1208.2 814.6,1211.2 831.6,1208.2" fill="none" stroke="#5d6f80" stroke-opacity=".55" stroke-width="1.2"/><polyline points="918.8,1066.6 924.8,1064.1 938.8,1070.6 950.0,1078.6 950.0,1086.0 960.0,1092.0 970.0,1099.0 969.0,1110.1 980.1,1114.1 981.1,1109.1 991.1,1108.1 989.1,1103.0 979.1,1097.0 984.1,1090.0 1003.1,1092.0 1019.1,1094.0 1019.1,1103.0 1029.1,1104.0 1030.1,1090.0 1028.1,1080.0 1030.1,1072.6 1038.2,1069.6 1044.2,1071.6 1043.2,1080.0 1046.2,1080.0 1054.2,1088.0 1074.2,1084.0 1088.2,1082.0 1090.3,1080.0" fill="none" stroke="#5d6f80" stroke-opacity=".55" stroke-width="1.2"/><polyline points="1090.3,1080.0 1094.3,1091.0 1109.3,1099.0 1106.3,1107.0 1116.3,1116.1 1120.3,1118.5" fill="none" stroke="#5d6f80" stroke-opacity=".55" stroke-width="1.2"/><polyline points="770.5,1203.2 776.5,1228.3 774.5,1234.3 772.5,1242.3 767.5,1250.3 762.5,1268.3 758.5,1280.4 750.5,1288.4" fill="none" stroke="#5d6f80" stroke-opacity=".55" stroke-width="1.2"/><polyline points="583.2,1208.2 594.2,1210.2 618.2,1208.2 628.2,1198.2 640.3,1195.2 650.3,1198.2 666.3,1202.2 669.3,1208.2 664.3,1222.3 676.3,1230.3 677.3,1238.3 677.3,1260.3" fill="none" stroke="#5d6f80" stroke-opacity=".55" stroke-width="1.2"/><polyline points="995.1,560.2 984.1,570.2 983.1,584.3 988.1,594.3 1000.1,600.3 998.1,612.3 989.1,616.3 987.1,626.3 976.0,633.3 971.0,638.4 970.0,648.4" fill="none" stroke="#5d6f80" stroke-opacity=".55" stroke-width="1.2"/><polyline points="1030.1,688.4 1020.1,684.4 1010.1,666.4 998.1,652.4 990.1,657.4 982.1,650.4 970.0,648.4" fill="none" stroke="#5d6f80" stroke-opacity=".55" stroke-width="1.2"/><polyline points="826.6,569.8 848.6,570.2 858.7,582.3 866.7,596.3 873.7,606.3 890.7,620.3 910.8,630.3 950.0,640.4 960.0,644.4 970.0,648.4" fill="none" stroke="#5d6f80" stroke-opacity=".55" stroke-width="1.2"/><polyline points="1030.1,688.4 1036.2,696.5 1046.2,693.5 1057.2,700.1" fill="none" stroke="#5d6f80" stroke-opacity=".55" stroke-width="1.2"/><polygon points="774.5,670.4 784.5,670.4 794.5,677.4 806.6,679.4 818.6,680.4 821.6,686.4 810.6,688.4 790.5,686.4 786.5,678.4 778.5,675.4" fill="none" stroke="#5d6f80" stroke-opacity=".5" stroke-width="1"/><polygon points="779.5,613.3 790.5,612.3 792.5,628.3 784.5,629.3 778.5,633.3 776.5,630.3 784.5,622.3" fill="none" stroke="#5d6f80" stroke-opacity=".5" stroke-width="1"/><polygon points="1200.0,766.9 1214.4,756.5 1233.1,754.5 1235.1,768.9 1253.8,787.6 1247.5,804.1 1224.8,795.8 1204.1,795.8 1191.7,787.6" fill="none" stroke="#5d6f80" stroke-opacity=".5" stroke-width="1"/><text x="783.3" y="939.4" font-size="27" font-weight="700" fill="#7a7773" textLength="273.9" lengthAdjust="spacing" stroke="#3f3e3d" stroke-width="4" stroke-linejoin="round" paint-order="stroke">DEUTSCHLAND</text><text x="495" y="738" font-size="21" font-weight="400" fill="#8a8a88" textLength="141.0" lengthAdjust="spacing">ERLANDE</text><text x="495" y="1182.7" font-size="20.5" font-weight="400" fill="#8a8a88" textLength="137.3" lengthAdjust="spacing" stroke="#3a3b3a" stroke-width="4" stroke-linejoin="round" paint-order="stroke">UXEMBURG</text><text x="1333.6" y="1207.6" font-size="20.5" font-weight="400" fill="#8a8a88" textLength="74.4" lengthAdjust="spacing">TSCH</text><text x="498.6" y="1084.7" font-size="20" font-weight="400" fill="#8a8a88" textLength="13.3" lengthAdjust="spacing">N</text><text x="495.7" y="806" font-size="21" font-weight="400" fill="#cfcfcf" textLength="11.3" lengthAdjust="spacing">n</text><text x="1331.5" y="474.5" font-size="21" font-weight="400" fill="#5e6163" textLength="76.5" lengthAdjust="spacing">Ostse</text><defs><filter id="halo" x="-10%" y="-30%" width="120%" height="160%"><feGaussianBlur stdDeviation="1.6"/></filter></defs><text x="862.7" y="630.3" font-size="24" textLength="101.3" lengthAdjust="spacingAndGlyphs" fill="none" stroke="#23272b" stroke-opacity=".85" stroke-width="5" stroke-linejoin="round" filter="url(#halo)">Hamburg</text><text x="862.7" y="630.3" font-size="24" textLength="101.3" lengthAdjust="spacingAndGlyphs" fill="#ebe8e1" stroke="#3a3d40" stroke-width="2.2" stroke-linejoin="round" paint-order="stroke">Hamburg</text><text x="766.3" y="702" font-size="22.5" textLength="79.1" lengthAdjust="spacingAndGlyphs" fill="none" stroke="#23272b" stroke-opacity=".85" stroke-width="5" stroke-linejoin="round" filter="url(#halo)">Bremen</text><text x="766.3" y="702" font-size="22.5" textLength="79.1" lengthAdjust="spacingAndGlyphs" fill="#ebe8e1" stroke="#3a3d40" stroke-width="2.2" stroke-linejoin="round" paint-order="stroke">Bremen</text><text x="1297" y="649" font-size="22.5" textLength="63.5" lengthAdjust="spacingAndGlyphs" fill="none" stroke="#23272b" stroke-opacity=".85" stroke-width="5" stroke-linejoin="round" filter="url(#halo)">Stettin</text><text x="1297" y="649" font-size="22.5" textLength="63.5" lengthAdjust="spacingAndGlyphs" fill="#ebe8e1" stroke="#3a3d40" stroke-width="2.2" stroke-linejoin="round" paint-order="stroke">Stettin</text><text x="1189.6" y="786.3" font-size="24" textLength="64.1" lengthAdjust="spacingAndGlyphs" fill="none" stroke="#23272b" stroke-opacity=".85" stroke-width="5" stroke-linejoin="round" filter="url(#halo)">Berlin</text><text x="1189.6" y="786.3" font-size="24" textLength="64.1" lengthAdjust="spacingAndGlyphs" fill="#ebe8e1" stroke="#3a3d40" stroke-width="2.2" stroke-linejoin="round" paint-order="stroke">Berlin</text><text x="841" y="807.4" font-size="22.5" textLength="98.0" lengthAdjust="spacingAndGlyphs" fill="none" stroke="#23272b" stroke-opacity=".85" stroke-width="5" stroke-linejoin="round" filter="url(#halo)">Hannover</text><text x="841" y="807.4" font-size="22.5" textLength="98.0" lengthAdjust="spacingAndGlyphs" fill="#ebe8e1" stroke="#3a3d40" stroke-width="2.2" stroke-linejoin="round" paint-order="stroke">Hannover</text><text x="736.5" y="859" font-size="22.5" textLength="87.8" lengthAdjust="spacingAndGlyphs" fill="none" stroke="#23272b" stroke-opacity=".85" stroke-width="5" stroke-linejoin="round" filter="url(#halo)">Bielefeld</text><text x="736.5" y="859" font-size="22.5" textLength="87.8" lengthAdjust="spacingAndGlyphs" fill="#ebe8e1" stroke="#3a3d40" stroke-width="2.2" stroke-linejoin="round" paint-order="stroke">Bielefeld</text><text x="610.3" y="942.7" font-size="22.5" textLength="62.9" lengthAdjust="spacingAndGlyphs" fill="none" stroke="#23272b" stroke-opacity=".85" stroke-width="5" stroke-linejoin="round" filter="url(#halo)">Essen</text><text x="610.3" y="942.7" font-size="22.5" textLength="62.9" lengthAdjust="spacingAndGlyphs" fill="#ebe8e1" stroke="#3a3d40" stroke-width="2.2" stroke-linejoin="round" paint-order="stroke">Essen</text><text x="566.9" y="978" font-size="22.5" textLength="109.6" lengthAdjust="spacingAndGlyphs" fill="none" stroke="#23272b" stroke-opacity=".85" stroke-width="5" stroke-linejoin="round" filter="url(#halo)">Düsseldorf</text><text x="566.9" y="978" font-size="22.5" textLength="109.6" lengthAdjust="spacingAndGlyphs" fill="#ebe8e1" stroke="#3a3d40" stroke-width="2.2" stroke-linejoin="round" paint-order="stroke">Düsseldorf</text><text x="614.5" y="1017.2" font-size="22.5" textLength="45.5" lengthAdjust="spacingAndGlyphs" fill="none" stroke="#23272b" stroke-opacity=".85" stroke-width="5" stroke-linejoin="round" filter="url(#halo)">Köln</text><text x="614.5" y="1017.2" font-size="22.5" textLength="45.5" lengthAdjust="spacingAndGlyphs" fill="#ebe8e1" stroke="#3a3d40" stroke-width="2.2" stroke-linejoin="round" paint-order="stroke">Köln</text><text x="1095.7" y="958.5" font-size="22.5" textLength="71.2" lengthAdjust="spacingAndGlyphs" fill="none" stroke="#23272b" stroke-opacity=".85" stroke-width="5" stroke-linejoin="round" filter="url(#halo)">Leipzig</text><text x="1095.7" y="958.5" font-size="22.5" textLength="71.2" lengthAdjust="spacingAndGlyphs" fill="#ebe8e1" stroke="#3a3d40" stroke-width="2.2" stroke-linejoin="round" paint-order="stroke">Leipzig</text><text x="1212.4" y="1001.5" font-size="22.5" textLength="84.8" lengthAdjust="spacingAndGlyphs" fill="none" stroke="#23272b" stroke-opacity=".85" stroke-width="5" stroke-linejoin="round" filter="url(#halo)">Dresden</text><text x="1212.4" y="1001.5" font-size="22.5" textLength="84.8" lengthAdjust="spacingAndGlyphs" fill="#ebe8e1" stroke="#3a3d40" stroke-width="2.2" stroke-linejoin="round" paint-order="stroke">Dresden</text><text x="1137.9" y="1031.7" font-size="19" textLength="84.8" lengthAdjust="spacingAndGlyphs" fill="none" stroke="#23272b" stroke-opacity=".85" stroke-width="5" stroke-linejoin="round" filter="url(#halo)">Chemnitz</text><text x="1137.9" y="1031.7" font-size="19" textLength="84.8" lengthAdjust="spacingAndGlyphs" fill="#ebe8e1" stroke="#3a3d40" stroke-width="2.2" stroke-linejoin="round" paint-order="stroke">Chemnitz</text><text x="745.6" y="1123.6" font-size="22.5" textLength="92.3" lengthAdjust="spacingAndGlyphs" fill="none" stroke="#23272b" stroke-opacity=".85" stroke-width="5" stroke-linejoin="round" filter="url(#halo)">Frankfurt</text><text x="745.6" y="1123.6" font-size="22.5" textLength="92.3" lengthAdjust="spacingAndGlyphs" fill="#ebe8e1" stroke="#3a3d40" stroke-width="2.2" stroke-linejoin="round" paint-order="stroke">Frankfurt</text><text x="751" y="1148.8" font-size="22.5" textLength="86.9" lengthAdjust="spacingAndGlyphs" fill="none" stroke="#23272b" stroke-opacity=".85" stroke-width="5" stroke-linejoin="round" filter="url(#halo)">am Main</text><text x="751" y="1148.8" font-size="22.5" textLength="86.9" lengthAdjust="spacingAndGlyphs" fill="#ebe8e1" stroke="#3a3d40" stroke-width="2.2" stroke-linejoin="round" paint-order="stroke">am Main</text><text x="1292.2" y="1141.4" font-size="22.5" textLength="51.3" lengthAdjust="spacingAndGlyphs" fill="#ebe8e1" stroke="#2e2f2f" stroke-width="2" stroke-linejoin="round" paint-order="stroke">Prag</text><text x="506.9" y="1206.7" font-size="21.5" textLength="109.6" lengthAdjust="spacingAndGlyphs" fill="#ebe8e1" stroke="#2e2f2f" stroke-width="2" stroke-linejoin="round" paint-order="stroke">Luxemburg</text><text x="722" y="1224" font-size="22.5" textLength="104.7" lengthAdjust="spacingAndGlyphs" fill="none" stroke="#23272b" stroke-opacity=".85" stroke-width="5" stroke-linejoin="round" filter="url(#halo)">Mannheim</text><text x="722" y="1224" font-size="22.5" textLength="104.7" lengthAdjust="spacingAndGlyphs" fill="#ebe8e1" stroke="#3a3d40" stroke-width="2.2" stroke-linejoin="round" paint-order="stroke">Mannheim</text><text x="965" y="1229.5" font-size="22.5" textLength="94.3" lengthAdjust="spacingAndGlyphs" fill="none" stroke="#23272b" stroke-opacity=".85" stroke-width="5" stroke-linejoin="round" filter="url(#halo)">Nürnberg</text><text x="965" y="1229.5" font-size="22.5" textLength="94.3" lengthAdjust="spacingAndGlyphs" fill="#ebe8e1" stroke="#3a3d40" stroke-width="2.2" stroke-linejoin="round" paint-order="stroke">Nürnberg</text><text x="583.4" y="1259.3" font-size="20.5" textLength="115.1" lengthAdjust="spacingAndGlyphs" fill="none" stroke="#23272b" stroke-opacity=".85" stroke-width="5" stroke-linejoin="round" filter="url(#halo)">Saarbrücken</text><text x="583.4" y="1259.3" font-size="20.5" textLength="115.1" lengthAdjust="spacingAndGlyphs" fill="#ebe8e1" stroke="#3a3d40" stroke-width="2.2" stroke-linejoin="round" paint-order="stroke">Saarbrücken</text><text x="796.5" y="1323.4" font-size="22.5" textLength="85.7" lengthAdjust="spacingAndGlyphs" fill="none" stroke="#23272b" stroke-opacity=".85" stroke-width="5" stroke-linejoin="round" filter="url(#halo)">Stuttgart</text><text x="796.5" y="1323.4" font-size="22.5" textLength="85.7" lengthAdjust="spacingAndGlyphs" fill="#ebe8e1" stroke="#3a3d40" stroke-width="2.2" stroke-linejoin="round" paint-order="stroke">Stuttgart</text><text x="1007.6" y="1411" font-size="22.5" textLength="100.4" lengthAdjust="spacingAndGlyphs" fill="none" stroke="#23272b" stroke-opacity=".85" stroke-width="5" stroke-linejoin="round" filter="url(#halo)">München</text><text x="1007.6" y="1411" font-size="22.5" textLength="100.4" lengthAdjust="spacingAndGlyphs" fill="#ebe8e1" stroke="#3a3d40" stroke-width="2.2" stroke-linejoin="round" paint-order="stroke">München</text><path d="M547.5,1425 V1445.5 M547.5,1435 H788.5 M788.5,1425 V1436.5 M739.3,1435 V1444.5" fill="none" stroke="#4f4f4f" stroke-width="3.2"/><text x="774" y="1422.7" font-size="20" font-weight="700" fill="#6a6a6a" textLength="70.5" lengthAdjust="spacingAndGlyphs">200km</text><text x="728.5" y="1465.4" font-size="20" font-weight="700" fill="#6a6a6a" textLength="64" lengthAdjust="spacingAndGlyphs">100mi</text><rect x="1128.5" y="472" width="264" height="67" fill="#343434" stroke="#454545" stroke-width="1.6"/><circle cx="1160" cy="500" r="10.3" fill="none" stroke="#c4c4c4" stroke-width="1.8"/><path d="M1167.2,507.6 L1178,518.8" stroke="#c4c4c4" stroke-width="1.8"/><path d="M1215,505.5 L1229.5,491 L1244.5,505.5 M1218,503 V520.5 H1225 V508.5 H1235 V520.5 H1242 V503 M1221.5,499 V491 H1225.5 V495" fill="none" stroke="#c4c4c4" stroke-width="1.6" stroke-linejoin="miter"/><path d="M1290.5,493.5 H1307.5 M1290.5,501 H1307.5 M1290.5,509 H1307.5 M1290.5,517 H1307.5" stroke="#c4c4c4" stroke-width="1.8"/><rect x="1281" y="491" width="4.4" height="4.4" fill="none" stroke="#c4c4c4" stroke-width="1.3"/><circle cx="1283.2" cy="501" r="2.2" fill="none" stroke="#c4c4c4" stroke-width="1.3"/><rect x="1281" y="506.8" width="4.4" height="4.4" fill="none" stroke="#c4c4c4" stroke-width="1.3"/><path d="M1280.8,519.4 L1283.2,514.6 L1285.6,519.4 Z" fill="none" stroke="#c4c4c4" stroke-width="1.2"/><rect x="1343" y="491" width="12.6" height="12.6" fill="none" stroke="#c4c4c4" stroke-width="1.5"/><rect x="1361" y="491" width="12.6" height="12.6" fill="none" stroke="#c4c4c4" stroke-width="1.5"/><rect x="1343" y="509" width="12.6" height="12.6" fill="none" stroke="#c4c4c4" stroke-width="1.5"/><rect x="1361" y="509" width="12.6" height="12.6" fill="none" stroke="#c4c4c4" stroke-width="1.5"/><path d="M1343,497 L1349,499 L1355.5,494 M1347,491 L1349,499 L1346,503.6 M1349,499 L1355.5,503 M1361,503.6 L1366,497 H1370 L1373.6,491 M1343,515 H1350 L1352,509 M1361,515 L1367,509.5 L1373.6,516 M1367,509.5 V515 L1364,521.6" fill="none" stroke="#c4c4c4" stroke-width="1.3"/><rect x="1333.7" y="1331.5" width="61" height="114.5" fill="#333" stroke="#484848" stroke-width="1.4"/><path d="M1351,1360 H1376 M1363.5,1347.5 V1372.5 M1351,1414 H1376" stroke="#d8d8d8" stroke-width="2.2"/><rect x="979" y="1457" width="410" height="29" fill="#fff" fill-opacity=".74"/><text x="987" y="1481" font-size="25" fill="#323232" textLength="392" lengthAdjust="spacingAndGlyphs">GDI-TH, Esri, HERE, Garmin, FA…</text></svg>
<div class="panel" id="kpi1" style="left:1430px;top:394.5px;width:218.5px;height:199px;"></div>
<div class="abs" style="left:1432px;top:507px;width:214.5px;height:2px;background:#363636;"></div>
<span class="t" style="left:1474.5px;top:404.2px;font-size:17.5px;line-height:17.5px;color:#fff;font-weight:400;font-family:'Liberation Sans', sans-serif;letter-spacing:0.27px;">COVID-19-Fälle</span>
<span class="t" style="left:1477.5px;top:430.6px;font-size:46px;line-height:46px;color:#4fc0f7;font-weight:700;font-family:'Liberation Sans', sans-serif;letter-spacing:1.22px;">3.663</span>
<span class="t" style="left:1474.5px;top:482.3px;font-size:18.5px;line-height:18.5px;color:#3a8db5;font-weight:400;font-family:'Liberation Sans', sans-serif;letter-spacing:-0.08px;">aus total 91.714</span>
<span class="t" style="left:1478.0px;top:514.1px;font-size:46px;line-height:46px;color:#e2a136;font-weight:700;font-family:'Liberation Sans', sans-serif;letter-spacing:-0.88px;">+</span>
<span class="t" style="left:1520.5px;top:514.1px;font-size:46px;line-height:46px;color:#e2a136;font-weight:700;font-family:'Liberation Sans', sans-serif;letter-spacing:1.62px;">159</span>
<span class="t" style="left:1486.0px;top:567.7px;font-size:19px;line-height:19px;color:#fff;font-weight:400;font-family:'Liberation Sans', sans-serif;letter-spacing:0.99px;">zum Vortag</span>
<div class="panel" id="kpi2" style="left:1667.5px;top:394.5px;width:222px;height:199px;"></div>
<div class="abs" style="left:1669.5px;top:507px;width:218px;height:2px;background:#363636;"></div>
<span class="t" style="left:1712.5px;top:410.0px;font-size:14.8px;line-height:14.8px;color:#fff;font-weight:400;font-family:'Liberation Sans', sans-serif;letter-spacing:-0.41px;">COVID-19-Todesfälle</span>
<span class="t" style="left:1756.0px;top:429.8px;font-size:38px;line-height:38px;color:#d2d2d2;font-weight:700;font-family:'Liberation Sans', sans-serif;letter-spacing:0.52px;">32</span>
<span class="t" style="left:1712.5px;top:473.5px;font-size:19.5px;line-height:19.5px;color:#9a9a9a;font-weight:400;font-family:'Liberation Sans', sans-serif;letter-spacing:-0.03px;">aus total 1.342</span>
<span class="t" style="left:1744.5px;top:514.1px;font-size:46px;line-height:46px;color:#8b8b8b;font-weight:700;font-family:'Liberation Sans', sans-serif;letter-spacing:-1.38px;">+</span>
<span class="t" style="left:1786.5px;top:514.1px;font-size:46px;line-height:46px;color:#8b8b8b;font-weight:700;font-family:'Liberation Sans', sans-serif;letter-spacing:-2.09px;">3</span>
<span class="t" style="left:1725.0px;top:568.9px;font-size:19px;line-height:19px;color:#fff;font-weight:400;font-family:'Liberation Sans', sans-serif;letter-spacing:0.85px;">zum Vortag</span>
<div class="panel" id="info" style="left:1909px;top:394.5px;width:459.5px;height:199px;"></div>
<span class="t" style="left:2009.0px;top:415.5px;font-size:23px;line-height:23px;color:#fff;font-weight:400;font-family:'Liberation Sans', sans-serif;letter-spacing:0.76px;">Kombination, Analyse &amp;</span>
<span class="t" style="left:1933.5px;top:451.5px;font-size:23px;line-height:23px;color:#fff;font-weight:400;font-family:'Liberation Sans', sans-serif;letter-spacing:0.74px;">Kommunikation relevanter Daten zum</span>
<span class="t" style="left:2072.8px;top:487.5px;font-size:23px;line-height:23px;color:#fff;font-weight:400;font-family:'Liberation Sans', sans-serif;letter-spacing:0.72px;">Coronavirus</span>
<span class="t" style="left:1927.0px;top:523.5px;font-size:23px;line-height:23px;color:#4a90e2;font-weight:400;font-family:'Liberation Sans', sans-serif;letter-spacing:0.63px;">Erkunden Sie den NPGEO Corona Hub</span>
<div class="abs" style="left:1925px;top:587px;width:71px;height:5.5px;background:#3a6fc0;"></div>
<div class="abs" style="left:1996px;top:587px;width:70.5px;height:5.5px;background:#8a8a8a;"></div>
<div class="abs" style="left:2066.5px;top:587px;width:71.5px;height:5.5px;background:#3a7f80;"></div>
<div class="abs" style="left:2138px;top:587px;width:72px;height:5.5px;background:#f0a93b;"></div>
<div class="abs" style="left:2210px;top:587px;width:71px;height:5.5px;background:#6e6e6e;"></div>
<div class="abs" style="left:2281px;top:587px;width:72px;height:5.5px;background:#8e65b8;"></div>
<div class="abs" style="left:2022px;top:589.5px;width:17px;height:3px;border-radius:8px 8px 0 0;background:#f4f4f4;"></div>
<div class="abs" style="left:2192px;top:587px;width:2.5px;height:5.5px;background:#f6e7c6;"></div>
<div class="abs" style="left:2241px;top:590.5px;width:26px;height:2px;background:#ddd;"></div>
<div class="panel" id="chart1" style="left:1430px;top:614px;width:938.5px;height:333px;"></div>
<span class="t" style="left:1513.6px;top:633.1px;font-size:31px;line-height:31px;color:#fff;font-weight:700;font-family:'Liberation Sans', sans-serif;letter-spacing:0.53px;">COVID-19-Fälle nach Altersgruppe und Geschlecht</span>
<svg class="abs" style="left:1432px;top:690px" width="934" height="250" viewBox="1432 690 934 250" font-family="Liberation Sans, sans-serif"><path d="M1562.6,720.0 H2093.0" stroke="#4a4a4a" stroke-width="1.3" stroke-dasharray="5,5"/><path d="M1562.6,769.5 H2093.0" stroke="#4a4a4a" stroke-width="1.3" stroke-dasharray="5,5"/><path d="M1651.0,720.0 V819.0" stroke="#4a4a4a" stroke-width="1.3" stroke-dasharray="5,5"/><path d="M1739.4,720.0 V819.0" stroke="#4a4a4a" stroke-width="1.3" stroke-dasharray="5,5"/><path d="M1827.8,720.0 V819.0" stroke="#4a4a4a" stroke-width="1.3" stroke-dasharray="5,5"/><path d="M1916.2,720.0 V819.0" stroke="#4a4a4a" stroke-width="1.3" stroke-dasharray="5,5"/><path d="M2004.6,720.0 V819.0" stroke="#4a4a4a" stroke-width="1.3" stroke-dasharray="5,5"/><path d="M2093.0,720.0 V819.0" stroke="#4a4a4a" stroke-width="1.3" stroke-dasharray="5,5"/><rect x="1570" y="816.2" width="32.0" height="2.8" fill="#3a84a8"/><rect x="1611.7" y="816.6" width="32.3" height="2.4" fill="#1f4e78"/><rect x="1658" y="813.6" width="32.0" height="5.4" fill="#3a84a8"/><rect x="1699.8" y="816.4" width="32.0" height="2.6" fill="#1f4e78"/><rect x="1745.8" y="773.8" width="32.0" height="45.2" fill="#3a84a8"/><rect x="1788" y="768" width="32.0" height="51.0" fill="#1f4e78"/><rect x="1836" y="729.8" width="32.0" height="89.2" fill="#3a84a8"/><rect x="1878" y="736" width="32.0" height="83.0" fill="#1f4e78"/><rect x="1924" y="780" width="32.0" height="39.0" fill="#3a84a8"/><rect x="1966" y="790" width="32.0" height="29.0" fill="#1f4e78"/><rect x="2012.4" y="809.5" width="32.0" height="9.5" fill="#3a84a8"/><rect x="2054" y="807.4" width="32.0" height="11.6" fill="#1f4e78"/><path d="M1562.6,720.0 V819.0" stroke="#7f7f7f" stroke-width="1.6"/><path d="M1550.6,819.0 H2093.0" stroke="#7f7f7f" stroke-width="1.6"/><path d="M1550.6,720.0 H1562.6 M1550.6,769.5 H1562.6" stroke="#7f7f7f" stroke-width="1.6"/><path d="M1606.8,819.0 V828.5" stroke="#7f7f7f" stroke-width="1.6"/><path d="M1695.2,819.0 V828.5" stroke="#7f7f7f" stroke-width="1.6"/><path d="M1783.6,819.0 V828.5" stroke="#7f7f7f" stroke-width="1.6"/><path d="M1872.0,819.0 V828.5" stroke="#7f7f7f" stroke-width="1.6"/><path d="M1960.4,819.0 V828.5" stroke="#7f7f7f" stroke-width="1.6"/><path d="M2048.8,819.0 V828.5" stroke="#7f7f7f" stroke-width="1.6"/><text x="1536" y="728.0" font-size="22.5" fill="#e6e6e6" text-anchor="end" textLength="53" lengthAdjust="spacingAndGlyphs">1.000</text><text x="1536" y="778.0" font-size="22.5" fill="#e6e6e6" text-anchor="end" textLength="36.5" lengthAdjust="spacingAndGlyphs">500</text><text x="1536" y="828.0" font-size="22.5" fill="#e6e6e6" text-anchor="end">0</text><text x="1590.3" y="865.3" font-size="22" fill="#e6e6e6" textLength="31.2" lengthAdjust="spacingAndGlyphs">0-4</text><text x="1672.5" y="865.3" font-size="22" fill="#e6e6e6" textLength="43.5" lengthAdjust="spacingAndGlyphs">5-14</text><text x="1755" y="865.3" font-size="22" fill="#e6e6e6" textLength="55.5" lengthAdjust="spacingAndGlyphs">15-34</text><text x="1844" y="865.3" font-size="22" fill="#e6e6e6" textLength="55.5" lengthAdjust="spacingAndGlyphs">35-59</text><text x="1931.5" y="865.3" font-size="22" fill="#e6e6e6" textLength="56.5" lengthAdjust="spacingAndGlyphs">60-79</text><text x="2028.5" y="865.3" font-size="22" fill="#e6e6e6" textLength="38.5" lengthAdjust="spacingAndGlyphs">80+</text><text x="1754.8" y="918" font-size="22.5" font-weight="700" fill="#fff" textLength="145.7" lengthAdjust="spacingAndGlyphs">Altersgruppe</text><circle cx="2189.8" cy="805.7" r="16" fill="#3a84a8"/><circle cx="2189.8" cy="862.2" r="16" fill="#1f4e78"/><text x="2214.7" y="817" font-size="22" fill="#e6e6e6" textLength="90" lengthAdjust="spacingAndGlyphs">Männlich</text><text x="2214.7" y="873" font-size="22" fill="#e6e6e6" textLength="86" lengthAdjust="spacingAndGlyphs">Weiblich</text></svg>
<div class="abs tabon" style="left:1456.5px;top:945px;width:253px;height:55px;"></div>
<div class="abs" style="left:1456.5px;top:996.5px;width:253px;height:3.5px;background:#4a90e2;"></div>
<div class="abs taboff" style="left:1721px;top:945px;width:473.5px;height:55px;"></div>
<span class="t" style="left:1481.8px;top:961.3px;font-size:23px;line-height:23px;color:#fff;font-weight:400;font-family:'Liberation Sans', sans-serif;letter-spacing:0.97px;">Fälle Altersgruppe</span>
<span class="t" style="left:1745.8px;top:961.3px;font-size:23px;line-height:23px;color:#fff;font-weight:400;font-family:'Liberation Sans', sans-serif;letter-spacing:0.99px;">Fälle Altersgruppe/100.000 Einwohner</span>
<div class="panel" id="chart2" style="left:1430px;top:1025px;width:938.5px;height:565px;"></div>
<span class="t" style="left:1738.5px;top:1043.8px;font-size:31px;line-height:31px;color:#fff;font-weight:700;font-family:'Liberation Sans', sans-serif;letter-spacing:0.74px;">COVID-19-Fälle/Tag *</span>
<span class="t" style="left:1676.8px;top:1092.5px;font-size:23px;line-height:23px;color:#e2a136;font-weight:700;font-family:'Liberation Sans', sans-serif;letter-spacing:0.12px;">(Übermittlungsverzug, siehe Disclaimer)</span>
<svg class="abs" style="left:1432px;top:1150px" width="934" height="310" viewBox="1432 1150 934 310" font-family="Liberation Sans, sans-serif"><path d="M1545.2,1273.2 H2303.3" stroke="#4a4a4a" stroke-width="1.3" stroke-dasharray="5,5"/><path d="M1545.2,1224.0 H2303.3" stroke="#4a4a4a" stroke-width="1.3" stroke-dasharray="5,5"/><path d="M1545.2,1174.8 H2303.3" stroke="#4a4a4a" stroke-width="1.3" stroke-dasharray="5,5"/><path d="M1682.7,1174.8 V1322.4" stroke="#4a4a4a" stroke-width="1.3" stroke-dasharray="5,5"/><path d="M1843.0,1174.8 V1322.4" stroke="#4a4a4a" stroke-width="1.3" stroke-dasharray="5,5"/><path d="M2004.8,1174.8 V1322.4" stroke="#4a4a4a" stroke-width="1.3" stroke-dasharray="5,5"/><path d="M2165.0,1174.8 V1322.4" stroke="#4a4a4a" stroke-width="1.3" stroke-dasharray="5,5"/><rect x="1547.0" y="1321.4" width="19.7" height="1.0" fill="#4da6df"/><rect x="1569.9" y="1320.1" width="19.7" height="2.3" fill="#4da6df"/><rect x="1592.8" y="1321.5" width="19.7" height="0.9" fill="#4da6df"/><rect x="1615.7" y="1321.5" width="19.7" height="0.9" fill="#4da6df"/><rect x="1638.6" y="1321.5" width="19.7" height="0.9" fill="#4da6df"/><rect x="1661.5" y="1320.1" width="19.7" height="2.3" fill="#4da6df"/><rect x="1684.4" y="1318.1" width="19.7" height="4.3" fill="#4da6df"/><rect x="1707.3" y="1314.0" width="19.7" height="8.4" fill="#4da6df"/><rect x="1730.2" y="1307.8" width="19.7" height="14.6" fill="#4da6df"/><rect x="1753.1" y="1292.0" width="19.7" height="30.4" fill="#4da6df"/><rect x="1776.0" y="1294.0" width="19.7" height="28.4" fill="#4da6df"/><rect x="1798.9" y="1297.6" width="19.7" height="24.8" fill="#4da6df"/><rect x="1798.9" y="1295.8" width="19.7" height="1.8" fill="#e2a136"/><rect x="1821.8" y="1273.8" width="19.7" height="48.6" fill="#4da6df"/><rect x="1844.7" y="1263.9" width="19.7" height="58.5" fill="#4da6df"/><rect x="1867.6" y="1240.1" width="19.7" height="82.3" fill="#4da6df"/><rect x="1890.5" y="1246.0" width="19.7" height="76.4" fill="#4da6df"/><rect x="1913.4" y="1256.0" width="19.7" height="66.4" fill="#4da6df"/><rect x="1936.3" y="1236.0" width="19.7" height="86.4" fill="#4da6df"/><rect x="1959.2" y="1265.9" width="19.7" height="56.5" fill="#4da6df"/><rect x="1982.1" y="1251.9" width="19.7" height="70.5" fill="#4da6df"/><rect x="2005.0" y="1225.4" width="19.7" height="97.0" fill="#4da6df"/><rect x="2027.9" y="1219.5" width="19.7" height="102.9" fill="#4da6df"/><rect x="2050.8" y="1237.2" width="19.7" height="85.2" fill="#4da6df"/><rect x="2073.7" y="1213.6" width="19.7" height="108.8" fill="#4da6df"/><rect x="2096.6" y="1189.6" width="19.7" height="132.8" fill="#4da6df"/><rect x="2119.5" y="1241.4" width="19.7" height="81.0" fill="#4da6df"/><rect x="2142.4" y="1251.6" width="19.7" height="70.8" fill="#4da6df"/><rect x="2165.3" y="1251.6" width="19.7" height="70.8" fill="#4da6df"/><rect x="2188.2" y="1224.6" width="19.7" height="97.8" fill="#4da6df"/><rect x="2188.2" y="1223.3" width="19.7" height="1.3" fill="#e2a136"/><rect x="2211.1" y="1198.9" width="19.7" height="123.5" fill="#4da6df"/><rect x="2211.1" y="1197.2" width="19.7" height="1.7" fill="#e2a136"/><rect x="2234.0" y="1230.9" width="19.7" height="91.5" fill="#4da6df"/><rect x="2234.0" y="1227.5" width="19.7" height="3.4" fill="#e2a136"/><rect x="2256.9" y="1315.2" width="19.7" height="7.2" fill="#4da6df"/><rect x="2256.9" y="1237.2" width="19.7" height="78.0" fill="#e2a136"/><rect x="2279.8" y="1321.5" width="19.7" height="0.9" fill="#e2a136"/><path d="M1545.2,1174.8 V1322.4" stroke="#7f7f7f" stroke-width="1.6"/><path d="M1533.2,1322.4 H2303.3" stroke="#7f7f7f" stroke-width="1.6"/><path d="M1533.2,1273.2 H1545.2" stroke="#7f7f7f" stroke-width="1.6"/><path d="M1533.2,1224.0 H1545.2" stroke="#7f7f7f" stroke-width="1.6"/><path d="M1533.2,1174.8 H1545.2" stroke="#7f7f7f" stroke-width="1.6"/><path d="M1682.7,1322.4 V1332.4" stroke="#7f7f7f" stroke-width="1.6"/><path d="M1843.0,1322.4 V1332.4" stroke="#7f7f7f" stroke-width="1.6"/><path d="M2004.8,1322.4 V1332.4" stroke="#7f7f7f" stroke-width="1.6"/><path d="M2165.0,1322.4 V1332.4" stroke="#7f7f7f" stroke-width="1.6"/><text x="1518.4" y="1330.9" font-size="22.5" fill="#e6e6e6" text-anchor="end">0</text><text x="1518.4" y="1281.7" font-size="22.5" fill="#e6e6e6" text-anchor="end" textLength="36.5" lengthAdjust="spacingAndGlyphs">100</text><text x="1518.4" y="1232.5" font-size="22.5" fill="#e6e6e6" text-anchor="end" textLength="36.5" lengthAdjust="spacingAndGlyphs">200</text><text x="1518.4" y="1183.3" font-size="22.5" fill="#e6e6e6" text-anchor="end" textLength="36.5" lengthAdjust="spacingAndGlyphs">300</text><text x="1688.9" y="1358.8" font-size="22" fill="#e6e6e6" textLength="61" lengthAdjust="spacingAndGlyphs">9. Mär</text><text x="1849.2" y="1358.8" font-size="22" fill="#e6e6e6" textLength="73.5" lengthAdjust="spacingAndGlyphs">16. Mär</text><text x="2011" y="1358.8" font-size="22" fill="#e6e6e6" textLength="73.5" lengthAdjust="spacingAndGlyphs">23. Mär</text><text x="2171.2" y="1358.8" font-size="22" fill="#e6e6e6" textLength="73.5" lengthAdjust="spacingAndGlyphs">30. Mär</text><circle cx="1748" cy="1424" r="16" fill="#4da6df"/><circle cx="1955.4" cy="1424" r="16" fill="#e2a136"/><text x="1773.3" y="1433.7" font-size="22" fill="#e6e6e6" textLength="137.7" lengthAdjust="spacingAndGlyphs">Stand gestern</text><text x="1980.7" y="1433.7" font-size="22" fill="#e6e6e6" textLength="137" lengthAdjust="spacingAndGlyphs">Neu berichtet</text></svg>
<span class="t" style="left:1443.0px;top:1504.8px;font-size:21.5px;line-height:21.5px;color:#b4b4b4;font-weight:400;font-family:'Liberation Sans', sans-serif;letter-spacing:0.36px;">* Gesamtplus der Fälle zum Vortag verteilt sich auf versch. Tage (orangene Balken)</span>
<span class="t" style="left:1443.0px;top:1546.8px;font-size:21.5px;line-height:21.5px;color:#b4b4b4;font-weight:400;font-family:'Liberation Sans', sans-serif;letter-spacing:0.55px;">aufgrund des Übermittlungsprozesses.</span>
<div class="abs tabon" style="left:1457px;top:1588px;width:149.5px;height:54.5px;"></div>
<div class="abs" style="left:1457px;top:1639px;width:149.5px;height:3.5px;background:#4a90e2;"></div>
<div class="abs taboff" style="left:1617.3px;top:1588px;width:210.0px;height:54.5px;"></div>
<div class="abs taboff" style="left:1838.2px;top:1588px;width:323.0px;height:54.5px;"></div>
<div class="abs taboff" style="left:2172.6px;top:1588px;width:163.4px;height:54.5px;"></div>
<span class="t" style="left:1482.0px;top:1604.5px;font-size:23px;line-height:23px;color:#fff;font-weight:400;font-family:'Liberation Sans', sans-serif;letter-spacing:0.71px;">Fälle/Tag</span>
<span class="t" style="left:1642.2px;top:1604.5px;font-size:23px;line-height:23px;color:#fff;font-weight:400;font-family:'Liberation Sans', sans-serif;letter-spacing:0.76px;">Fälle kumuliert</span>
<span class="t" style="left:1863.5px;top:1604.5px;font-size:23px;line-height:23px;color:#fff;font-weight:400;font-family:'Liberation Sans', sans-serif;letter-spacing:0.80px;">Fälle/100.000 Einwohner</span>
<span class="t" style="left:2197.0px;top:1604.5px;font-size:23px;line-height:23px;color:#fff;font-weight:400;font-family:'Liberation Sans', sans-serif;letter-spacing:0.73px;">Disclaimer</span>
<svg class="abs" style="left:0;top:0;pointer-events:none" width="2388" height="1668"><circle cx="471" cy="402" r="17.1" fill="#323232" stroke="#9a9a9a" stroke-width="1.8"/><path d="M468.8,399.8 L462.4,393.4 M469.0,393.4 L462.4,393.4 L462.4,400.0 M468.8,404.2 L462.4,410.6 M469.0,410.6 L462.4,410.6 L462.4,404.0 M473.2,399.8 L479.6,393.4 M473.0,393.4 L479.6,393.4 L479.6,400.0 M473.2,404.2 L479.6,410.6 M473.0,410.6 L479.6,410.6 L479.6,404.0" fill="none" stroke="#cacaca" stroke-width="1.5"/><circle cx="1408" cy="402" r="17.1" fill="#323232" stroke="#9a9a9a" stroke-width="1.8"/><path d="M1405.8,399.8 L1399.4,393.4 M1406.0,393.4 L1399.4,393.4 L1399.4,400.0 M1405.8,404.2 L1399.4,410.6 M1406.0,410.6 L1399.4,410.6 L1399.4,404.0 M1410.2,399.8 L1416.6,393.4 M1410.0,393.4 L1416.6,393.4 L1416.6,400.0 M1410.2,404.2 L1416.6,410.6 M1410.0,410.6 L1416.6,410.6 L1416.6,404.0" fill="none" stroke="#cacaca" stroke-width="1.5"/><circle cx="1645.8" cy="402" r="17.1" fill="#323232" stroke="#9a9a9a" stroke-width="1.8"/><path d="M1643.6,399.8 L1637.2,393.4 M1643.8,393.4 L1637.2,393.4 L1637.2,400.0 M1643.6,404.2 L1637.2,410.6 M1643.8,410.6 L1637.2,410.6 L1637.2,404.0 M1648.0,399.8 L1654.3999999999999,393.4 M1647.8,393.4 L1654.3999999999999,393.4 L1654.3999999999999,400.0 M1648.0,404.2 L1654.3999999999999,410.6 M1647.8,410.6 L1654.3999999999999,410.6 L1654.3999999999999,404.0" fill="none" stroke="#cacaca" stroke-width="1.5"/><circle cx="1886.8" cy="402" r="17.1" fill="#323232" stroke="#9a9a9a" stroke-width="1.8"/><path d="M1884.6,399.8 L1878.2,393.4 M1884.8,393.4 L1878.2,393.4 L1878.2,400.0 M1884.6,404.2 L1878.2,410.6 M1884.8,410.6 L1878.2,410.6 L1878.2,404.0 M1889.0,399.8 L1895.3999999999999,393.4 M1888.8,393.4 L1895.3999999999999,393.4 L1895.3999999999999,400.0 M1889.0,404.2 L1895.3999999999999,410.6 M1888.8,410.6 L1895.3999999999999,410.6 L1895.3999999999999,404.0" fill="none" stroke="#cacaca" stroke-width="1.5"/><circle cx="2365.8" cy="402" r="17.1" fill="#323232" stroke="#9a9a9a" stroke-width="1.8"/><path d="M2363.6000000000004,399.8 L2357.2000000000003,393.4 M2363.8,393.4 L2357.2000000000003,393.4 L2357.2000000000003,400.0 M2363.6000000000004,404.2 L2357.2000000000003,410.6 M2363.8,410.6 L2357.2000000000003,410.6 L2357.2000000000003,404.0 M2368.0,399.8 L2374.4,393.4 M2367.8,393.4 L2374.4,393.4 L2374.4,400.0 M2368.0,404.2 L2374.4,410.6 M2367.8,410.6 L2374.4,410.6 L2374.4,404.0" fill="none" stroke="#cacaca" stroke-width="1.5"/><circle cx="2365.8" cy="621" r="17.1" fill="#323232" stroke="#9a9a9a" stroke-width="1.8"/><path d="M2363.6000000000004,618.8 L2357.2000000000003,612.4 M2363.8,612.4 L2357.2000000000003,612.4 L2357.2000000000003,619.0 M2363.6000000000004,623.2 L2357.2000000000003,629.6 M2363.8,629.6 L2357.2000000000003,629.6 L2357.2000000000003,623.0 M2368.0,618.8 L2374.4,612.4 M2367.8,612.4 L2374.4,612.4 L2374.4,619.0 M2368.0,623.2 L2374.4,629.6 M2367.8,629.6 L2374.4,629.6 L2374.4,623.0" fill="none" stroke="#cacaca" stroke-width="1.5"/><circle cx="2365.8" cy="1033" r="17.1" fill="#323232" stroke="#9a9a9a" stroke-width="1.8"/><path d="M2363.6000000000004,1030.8 L2357.2000000000003,1024.4 M2363.8,1024.4 L2357.2000000000003,1024.4 L2357.2000000000003,1031.0 M2363.6000000000004,1035.2 L2357.2000000000003,1041.6 M2363.8,1041.6 L2357.2000000000003,1041.6 L2357.2000000000003,1035.0 M2368.0,1030.8 L2374.4,1024.4 M2367.8,1024.4 L2374.4,1024.4 L2374.4,1031.0 M2368.0,1035.2 L2374.4,1041.6 M2367.8,1041.6 L2374.4,1041.6 L2374.4,1035.0" fill="none" stroke="#cacaca" stroke-width="1.5"/><circle cx="471" cy="1527" r="17.1" fill="#323232" stroke="#9a9a9a" stroke-width="1.8"/><path d="M468.8,1524.8 L462.4,1518.4 M469.0,1518.4 L462.4,1518.4 L462.4,1525.0 M468.8,1529.2 L462.4,1535.6 M469.0,1535.6 L462.4,1535.6 L462.4,1529.0 M473.2,1524.8 L479.6,1518.4 M473.0,1518.4 L479.6,1518.4 L479.6,1525.0 M473.2,1529.2 L479.6,1535.6 M473.0,1535.6 L479.6,1535.6 L479.6,1529.0" fill="none" stroke="#cacaca" stroke-width="1.5"/><circle cx="1407.5" cy="1527" r="17.1" fill="#323232" stroke="#9a9a9a" stroke-width="1.8"/><path d="M1405.3,1524.8 L1398.9,1518.4 M1405.5,1518.4 L1398.9,1518.4 L1398.9,1525.0 M1405.3,1529.2 L1398.9,1535.6 M1405.5,1535.6 L1398.9,1535.6 L1398.9,1529.0 M1409.7,1524.8 L1416.1,1518.4 M1409.5,1518.4 L1416.1,1518.4 L1416.1,1525.0 M1409.7,1529.2 L1416.1,1535.6 M1409.5,1535.6 L1416.1,1535.6 L1416.1,1529.0" fill="none" stroke="#cacaca" stroke-width="1.5"/></svg>
</body></html>
